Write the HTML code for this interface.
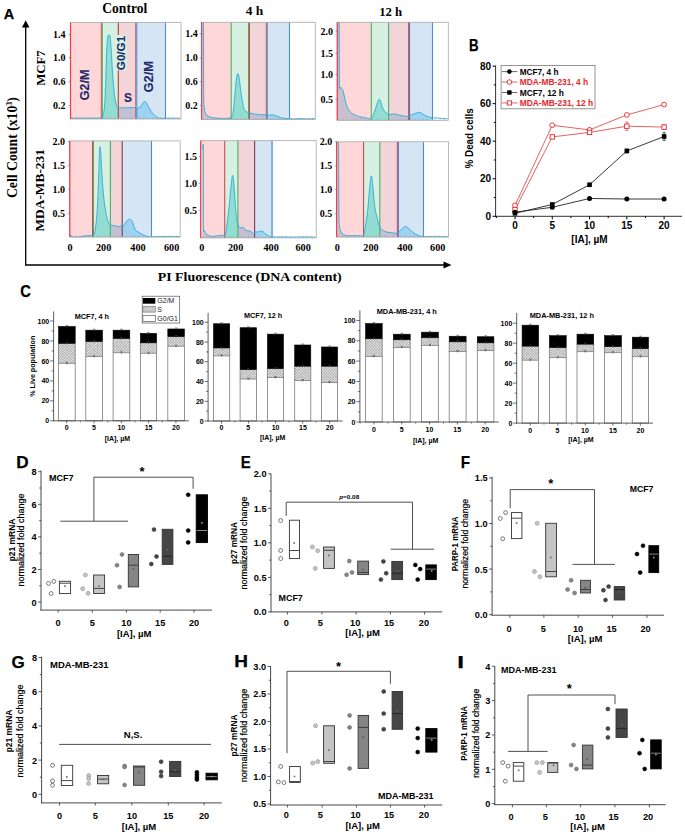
<!DOCTYPE html>
<html><head><meta charset="utf-8"><title>Figure</title>
<style>html,body{margin:0;padding:0;background:#fff;overflow:hidden;width:685px;height:834px;}svg{display:block;}</style></head>
<body><svg width="685" height="834" viewBox="0 0 685 834">
<rect width="685" height="834" fill="#fff"/>
<rect x="70.40" y="22.60" width="31.40" height="96.40" fill="#ffd7d8" />
<rect x="101.80" y="22.60" width="16.50" height="96.40" fill="#d6f1e2" />
<rect x="118.30" y="22.60" width="18.00" height="96.40" fill="#f3d4d8" />
<rect x="136.30" y="22.60" width="29.20" height="96.40" fill="#d5e5f4" />
<rect x="165.50" y="22.60" width="15.50" height="96.40" fill="#ffffff" />
<clipPath id="h0"><path d="M71.00,118.00 C72.50,118.03 76.83,118.20 80.00,118.20 C83.17,118.20 87.33,118.00 90.00,118.00 C92.67,118.00 94.07,118.25 96.00,118.20 C97.93,118.15 100.47,118.07 101.60,117.70 C102.73,117.33 102.32,117.78 102.80,116.00 C103.28,114.22 104.03,112.27 104.50,107.00 C104.97,101.73 105.23,93.80 105.60,84.40 C105.97,75.00 106.33,58.50 106.70,50.60 C107.07,42.70 107.42,39.60 107.80,37.00 C108.18,34.40 108.62,35.00 109.00,35.00 C109.38,35.00 109.73,34.40 110.10,37.00 C110.47,39.60 110.82,44.95 111.20,50.60 C111.58,56.25 112.02,65.27 112.40,70.90 C112.78,76.53 113.13,80.27 113.50,84.40 C113.87,88.53 114.17,92.50 114.60,95.70 C115.03,98.90 115.63,101.63 116.10,103.60 C116.57,105.57 116.90,106.72 117.40,107.50 C117.90,108.28 118.43,108.30 119.10,108.30 C119.77,108.30 120.65,107.53 121.40,107.50 C122.15,107.47 122.85,108.13 123.60,108.10 C124.35,108.07 125.25,107.28 125.90,107.30 C126.55,107.32 126.93,108.15 127.50,108.20 C128.07,108.25 128.42,107.70 129.30,107.60 C130.18,107.50 131.72,107.57 132.80,107.60 C133.88,107.63 135.08,107.57 135.80,107.80 C136.52,108.03 136.58,109.08 137.10,109.00 C137.62,108.92 138.32,107.62 138.90,107.30 C139.48,106.98 139.95,107.78 140.60,107.10 C141.25,106.42 142.13,104.13 142.80,103.20 C143.47,102.27 144.02,101.60 144.60,101.50 C145.18,101.40 145.65,101.73 146.30,102.60 C146.95,103.47 147.70,105.22 148.50,106.70 C149.30,108.18 150.15,110.12 151.10,111.50 C152.05,112.88 153.17,114.00 154.20,115.00 C155.23,116.00 156.35,116.95 157.30,117.50 C158.25,118.05 158.58,118.17 159.90,118.30 C161.22,118.43 163.18,118.33 165.20,118.30 C167.22,118.27 169.47,118.10 172.00,118.10 C174.53,118.10 179.00,118.27 180.40,118.30 L180.40,119 L71.00,119 Z"/></clipPath>
<rect x="70.40" y="22.60" width="31.40" height="96.40" fill="#c8c0d0" clip-path="url(#h0)"/>
<rect x="101.80" y="22.60" width="16.50" height="96.40" fill="#92dcd2" clip-path="url(#h0)"/>
<rect x="118.30" y="22.60" width="18.00" height="96.40" fill="#c2c0d2" clip-path="url(#h0)"/>
<rect x="136.30" y="22.60" width="29.20" height="96.40" fill="#9dd2f0" clip-path="url(#h0)"/>
<rect x="165.50" y="22.60" width="15.50" height="96.40" fill="#ffffff" clip-path="url(#h0)"/>
<line x1="101.30" y1="22.60" x2="101.30" y2="119.00" stroke="#d04a4a" stroke-width="1" />
<line x1="102.30" y1="22.60" x2="102.30" y2="119.00" stroke="#4cae62" stroke-width="1" />
<line x1="118.30" y1="22.60" x2="118.30" y2="119.00" stroke="#b0402e" stroke-width="1.1" />
<line x1="135.80" y1="22.60" x2="135.80" y2="119.00" stroke="#d04a4a" stroke-width="1" />
<line x1="136.80" y1="22.60" x2="136.80" y2="119.00" stroke="#4a8fd4" stroke-width="1" />
<line x1="165.50" y1="22.60" x2="165.50" y2="119.00" stroke="#4a8fd4" stroke-width="1.1" />
<clipPath id="bx0"><rect x="70.4" y="22.900000000000002" width="110.6" height="96.4"/></clipPath>
<path d="M71.00,118.00 C72.50,118.03 76.83,118.20 80.00,118.20 C83.17,118.20 87.33,118.00 90.00,118.00 C92.67,118.00 94.07,118.25 96.00,118.20 C97.93,118.15 100.47,118.07 101.60,117.70 C102.73,117.33 102.32,117.78 102.80,116.00 C103.28,114.22 104.03,112.27 104.50,107.00 C104.97,101.73 105.23,93.80 105.60,84.40 C105.97,75.00 106.33,58.50 106.70,50.60 C107.07,42.70 107.42,39.60 107.80,37.00 C108.18,34.40 108.62,35.00 109.00,35.00 C109.38,35.00 109.73,34.40 110.10,37.00 C110.47,39.60 110.82,44.95 111.20,50.60 C111.58,56.25 112.02,65.27 112.40,70.90 C112.78,76.53 113.13,80.27 113.50,84.40 C113.87,88.53 114.17,92.50 114.60,95.70 C115.03,98.90 115.63,101.63 116.10,103.60 C116.57,105.57 116.90,106.72 117.40,107.50 C117.90,108.28 118.43,108.30 119.10,108.30 C119.77,108.30 120.65,107.53 121.40,107.50 C122.15,107.47 122.85,108.13 123.60,108.10 C124.35,108.07 125.25,107.28 125.90,107.30 C126.55,107.32 126.93,108.15 127.50,108.20 C128.07,108.25 128.42,107.70 129.30,107.60 C130.18,107.50 131.72,107.57 132.80,107.60 C133.88,107.63 135.08,107.57 135.80,107.80 C136.52,108.03 136.58,109.08 137.10,109.00 C137.62,108.92 138.32,107.62 138.90,107.30 C139.48,106.98 139.95,107.78 140.60,107.10 C141.25,106.42 142.13,104.13 142.80,103.20 C143.47,102.27 144.02,101.60 144.60,101.50 C145.18,101.40 145.65,101.73 146.30,102.60 C146.95,103.47 147.70,105.22 148.50,106.70 C149.30,108.18 150.15,110.12 151.10,111.50 C152.05,112.88 153.17,114.00 154.20,115.00 C155.23,116.00 156.35,116.95 157.30,117.50 C158.25,118.05 158.58,118.17 159.90,118.30 C161.22,118.43 163.18,118.33 165.20,118.30 C167.22,118.27 169.47,118.10 172.00,118.10 C174.53,118.10 179.00,118.27 180.40,118.30" fill="none" stroke="#2aaade" stroke-width="0.9" stroke-linejoin="round" clip-path="url(#bx0)"/>
<rect x="70.40" y="22.60" width="110.60" height="96.40" fill="none" stroke="#a8a8a8" stroke-width="0.8" />
<line x1="70.50" y1="22.60" x2="70.50" y2="119.00" stroke="#f23b4b" stroke-width="1.2" />
<line x1="72.40" y1="119.00" x2="72.40" y2="117.50" stroke="#9a9a9a" stroke-width="0.6" />
<line x1="76.60" y1="119.00" x2="76.60" y2="117.50" stroke="#9a9a9a" stroke-width="0.6" />
<line x1="80.80" y1="119.00" x2="80.80" y2="117.50" stroke="#9a9a9a" stroke-width="0.6" />
<line x1="85.00" y1="119.00" x2="85.00" y2="117.50" stroke="#9a9a9a" stroke-width="0.6" />
<line x1="89.20" y1="119.00" x2="89.20" y2="117.50" stroke="#9a9a9a" stroke-width="0.6" />
<line x1="93.40" y1="119.00" x2="93.40" y2="117.50" stroke="#9a9a9a" stroke-width="0.6" />
<line x1="97.60" y1="119.00" x2="97.60" y2="117.50" stroke="#9a9a9a" stroke-width="0.6" />
<line x1="101.80" y1="119.00" x2="101.80" y2="117.50" stroke="#9a9a9a" stroke-width="0.6" />
<line x1="106.00" y1="119.00" x2="106.00" y2="117.50" stroke="#9a9a9a" stroke-width="0.6" />
<line x1="110.20" y1="119.00" x2="110.20" y2="117.50" stroke="#9a9a9a" stroke-width="0.6" />
<line x1="114.40" y1="119.00" x2="114.40" y2="117.50" stroke="#9a9a9a" stroke-width="0.6" />
<line x1="118.60" y1="119.00" x2="118.60" y2="117.50" stroke="#9a9a9a" stroke-width="0.6" />
<line x1="122.80" y1="119.00" x2="122.80" y2="117.50" stroke="#9a9a9a" stroke-width="0.6" />
<line x1="127.00" y1="119.00" x2="127.00" y2="117.50" stroke="#9a9a9a" stroke-width="0.6" />
<line x1="131.20" y1="119.00" x2="131.20" y2="117.50" stroke="#9a9a9a" stroke-width="0.6" />
<line x1="135.40" y1="119.00" x2="135.40" y2="117.50" stroke="#9a9a9a" stroke-width="0.6" />
<line x1="139.60" y1="119.00" x2="139.60" y2="117.50" stroke="#9a9a9a" stroke-width="0.6" />
<line x1="143.80" y1="119.00" x2="143.80" y2="117.50" stroke="#9a9a9a" stroke-width="0.6" />
<line x1="148.00" y1="119.00" x2="148.00" y2="117.50" stroke="#9a9a9a" stroke-width="0.6" />
<line x1="152.20" y1="119.00" x2="152.20" y2="117.50" stroke="#9a9a9a" stroke-width="0.6" />
<line x1="156.40" y1="119.00" x2="156.40" y2="117.50" stroke="#9a9a9a" stroke-width="0.6" />
<line x1="160.60" y1="119.00" x2="160.60" y2="117.50" stroke="#9a9a9a" stroke-width="0.6" />
<line x1="164.80" y1="119.00" x2="164.80" y2="117.50" stroke="#9a9a9a" stroke-width="0.6" />
<line x1="169.00" y1="119.00" x2="169.00" y2="117.50" stroke="#9a9a9a" stroke-width="0.6" />
<line x1="173.20" y1="119.00" x2="173.20" y2="117.50" stroke="#9a9a9a" stroke-width="0.6" />
<line x1="177.40" y1="119.00" x2="177.40" y2="117.50" stroke="#9a9a9a" stroke-width="0.6" />
<line x1="68.60" y1="34.50" x2="70.40" y2="34.50" stroke="#666" stroke-width="0.6" />
<line x1="68.60" y1="57.70" x2="70.40" y2="57.70" stroke="#666" stroke-width="0.6" />
<line x1="68.60" y1="81.70" x2="70.40" y2="81.70" stroke="#666" stroke-width="0.6" />
<line x1="68.60" y1="105.60" x2="70.40" y2="105.60" stroke="#666" stroke-width="0.6" />
<text x="65.50" y="38.00" font-family='"Liberation Serif", serif' font-size="10" font-weight="bold" fill="#000" text-anchor="end">1.4</text>
<text x="65.50" y="61.20" font-family='"Liberation Serif", serif' font-size="10" font-weight="bold" fill="#000" text-anchor="end">1.0</text>
<text x="65.50" y="85.20" font-family='"Liberation Serif", serif' font-size="10" font-weight="bold" fill="#000" text-anchor="end">0.6</text>
<text x="65.50" y="109.10" font-family='"Liberation Serif", serif' font-size="10" font-weight="bold" fill="#000" text-anchor="end">0.2</text>
<rect x="201.50" y="22.30" width="29.70" height="97.20" fill="#ffd7d8" />
<rect x="231.20" y="22.30" width="17.80" height="97.20" fill="#d6f1e2" />
<rect x="249.00" y="22.30" width="17.80" height="97.20" fill="#f3d4d8" />
<rect x="266.80" y="22.30" width="22.70" height="97.20" fill="#d5e5f4" />
<rect x="289.50" y="22.30" width="25.80" height="97.20" fill="#ffffff" />
<clipPath id="h1"><path d="M202.30,22.80 C202.48,22.80 203.17,11.05 203.40,22.80 C203.63,34.55 203.58,79.50 203.70,93.30 C203.82,107.10 203.83,102.33 204.10,105.60 C204.37,108.87 204.48,111.07 205.30,112.90 C206.12,114.73 207.57,115.78 209.00,116.60 C210.43,117.42 211.67,117.50 213.90,117.80 C216.13,118.10 220.05,118.33 222.40,118.40 C224.75,118.47 226.52,118.38 228.00,118.20 C229.48,118.02 230.42,118.50 231.30,117.30 C232.18,116.10 232.65,115.33 233.30,111.00 C233.95,106.67 234.67,96.78 235.20,91.30 C235.73,85.82 236.05,81.07 236.50,78.10 C236.95,75.13 237.45,73.50 237.90,73.50 C238.35,73.50 238.77,75.57 239.20,78.10 C239.63,80.63 239.95,84.75 240.50,88.70 C241.05,92.65 241.85,98.30 242.50,101.80 C243.15,105.30 243.63,108.00 244.40,109.70 C245.17,111.40 246.22,111.45 247.10,112.00 C247.98,112.55 248.50,112.68 249.70,113.00 C250.90,113.32 252.67,113.62 254.30,113.90 C255.93,114.18 257.75,114.57 259.50,114.70 C261.25,114.83 263.48,114.60 264.80,114.70 C266.12,114.80 266.08,115.27 267.40,115.30 C268.72,115.33 271.17,114.78 272.70,114.90 C274.23,115.02 275.28,115.55 276.60,116.00 C277.92,116.45 279.07,117.17 280.60,117.60 C282.13,118.03 283.62,118.38 285.80,118.60 C287.98,118.82 291.33,118.90 293.70,118.90 C296.07,118.90 297.95,118.60 300.00,118.60 C302.05,118.60 303.53,118.90 306.00,118.90 C308.47,118.90 313.33,118.65 314.80,118.60 L314.80,119.5 L202.30,119.5 Z"/></clipPath>
<rect x="201.50" y="22.30" width="29.70" height="97.20" fill="#c8c0d0" clip-path="url(#h1)"/>
<rect x="231.20" y="22.30" width="17.80" height="97.20" fill="#92dcd2" clip-path="url(#h1)"/>
<rect x="249.00" y="22.30" width="17.80" height="97.20" fill="#c2c0d2" clip-path="url(#h1)"/>
<rect x="266.80" y="22.30" width="22.70" height="97.20" fill="#9dd2f0" clip-path="url(#h1)"/>
<rect x="289.50" y="22.30" width="25.80" height="97.20" fill="#ffffff" clip-path="url(#h1)"/>
<line x1="231.20" y1="22.30" x2="231.20" y2="119.50" stroke="#4cae62" stroke-width="1.1" />
<line x1="248.50" y1="22.30" x2="248.50" y2="119.50" stroke="#4cae62" stroke-width="1" />
<line x1="249.50" y1="22.30" x2="249.50" y2="119.50" stroke="#d04a4a" stroke-width="1" />
<line x1="266.30" y1="22.30" x2="266.30" y2="119.50" stroke="#d04a4a" stroke-width="1" />
<line x1="267.30" y1="22.30" x2="267.30" y2="119.50" stroke="#4a8fd4" stroke-width="1" />
<line x1="289.50" y1="22.30" x2="289.50" y2="119.50" stroke="#4a8fd4" stroke-width="1.1" />
<clipPath id="bx1"><rect x="201.5" y="22.6" width="113.80000000000001" height="97.2"/></clipPath>
<path d="M202.30,22.80 C202.48,22.80 203.17,11.05 203.40,22.80 C203.63,34.55 203.58,79.50 203.70,93.30 C203.82,107.10 203.83,102.33 204.10,105.60 C204.37,108.87 204.48,111.07 205.30,112.90 C206.12,114.73 207.57,115.78 209.00,116.60 C210.43,117.42 211.67,117.50 213.90,117.80 C216.13,118.10 220.05,118.33 222.40,118.40 C224.75,118.47 226.52,118.38 228.00,118.20 C229.48,118.02 230.42,118.50 231.30,117.30 C232.18,116.10 232.65,115.33 233.30,111.00 C233.95,106.67 234.67,96.78 235.20,91.30 C235.73,85.82 236.05,81.07 236.50,78.10 C236.95,75.13 237.45,73.50 237.90,73.50 C238.35,73.50 238.77,75.57 239.20,78.10 C239.63,80.63 239.95,84.75 240.50,88.70 C241.05,92.65 241.85,98.30 242.50,101.80 C243.15,105.30 243.63,108.00 244.40,109.70 C245.17,111.40 246.22,111.45 247.10,112.00 C247.98,112.55 248.50,112.68 249.70,113.00 C250.90,113.32 252.67,113.62 254.30,113.90 C255.93,114.18 257.75,114.57 259.50,114.70 C261.25,114.83 263.48,114.60 264.80,114.70 C266.12,114.80 266.08,115.27 267.40,115.30 C268.72,115.33 271.17,114.78 272.70,114.90 C274.23,115.02 275.28,115.55 276.60,116.00 C277.92,116.45 279.07,117.17 280.60,117.60 C282.13,118.03 283.62,118.38 285.80,118.60 C287.98,118.82 291.33,118.90 293.70,118.90 C296.07,118.90 297.95,118.60 300.00,118.60 C302.05,118.60 303.53,118.90 306.00,118.90 C308.47,118.90 313.33,118.65 314.80,118.60" fill="none" stroke="#2aaade" stroke-width="0.9" stroke-linejoin="round" clip-path="url(#bx1)"/>
<rect x="201.50" y="22.30" width="113.80" height="97.20" fill="none" stroke="#a8a8a8" stroke-width="0.8" />
<line x1="201.60" y1="22.30" x2="201.60" y2="119.50" stroke="#f23b4b" stroke-width="1.2" />
<line x1="203.50" y1="119.50" x2="203.50" y2="118.00" stroke="#9a9a9a" stroke-width="0.6" />
<line x1="207.70" y1="119.50" x2="207.70" y2="118.00" stroke="#9a9a9a" stroke-width="0.6" />
<line x1="211.90" y1="119.50" x2="211.90" y2="118.00" stroke="#9a9a9a" stroke-width="0.6" />
<line x1="216.10" y1="119.50" x2="216.10" y2="118.00" stroke="#9a9a9a" stroke-width="0.6" />
<line x1="220.30" y1="119.50" x2="220.30" y2="118.00" stroke="#9a9a9a" stroke-width="0.6" />
<line x1="224.50" y1="119.50" x2="224.50" y2="118.00" stroke="#9a9a9a" stroke-width="0.6" />
<line x1="228.70" y1="119.50" x2="228.70" y2="118.00" stroke="#9a9a9a" stroke-width="0.6" />
<line x1="232.90" y1="119.50" x2="232.90" y2="118.00" stroke="#9a9a9a" stroke-width="0.6" />
<line x1="237.10" y1="119.50" x2="237.10" y2="118.00" stroke="#9a9a9a" stroke-width="0.6" />
<line x1="241.30" y1="119.50" x2="241.30" y2="118.00" stroke="#9a9a9a" stroke-width="0.6" />
<line x1="245.50" y1="119.50" x2="245.50" y2="118.00" stroke="#9a9a9a" stroke-width="0.6" />
<line x1="249.70" y1="119.50" x2="249.70" y2="118.00" stroke="#9a9a9a" stroke-width="0.6" />
<line x1="253.90" y1="119.50" x2="253.90" y2="118.00" stroke="#9a9a9a" stroke-width="0.6" />
<line x1="258.10" y1="119.50" x2="258.10" y2="118.00" stroke="#9a9a9a" stroke-width="0.6" />
<line x1="262.30" y1="119.50" x2="262.30" y2="118.00" stroke="#9a9a9a" stroke-width="0.6" />
<line x1="266.50" y1="119.50" x2="266.50" y2="118.00" stroke="#9a9a9a" stroke-width="0.6" />
<line x1="270.70" y1="119.50" x2="270.70" y2="118.00" stroke="#9a9a9a" stroke-width="0.6" />
<line x1="274.90" y1="119.50" x2="274.90" y2="118.00" stroke="#9a9a9a" stroke-width="0.6" />
<line x1="279.10" y1="119.50" x2="279.10" y2="118.00" stroke="#9a9a9a" stroke-width="0.6" />
<line x1="283.30" y1="119.50" x2="283.30" y2="118.00" stroke="#9a9a9a" stroke-width="0.6" />
<line x1="287.50" y1="119.50" x2="287.50" y2="118.00" stroke="#9a9a9a" stroke-width="0.6" />
<line x1="291.70" y1="119.50" x2="291.70" y2="118.00" stroke="#9a9a9a" stroke-width="0.6" />
<line x1="295.90" y1="119.50" x2="295.90" y2="118.00" stroke="#9a9a9a" stroke-width="0.6" />
<line x1="300.10" y1="119.50" x2="300.10" y2="118.00" stroke="#9a9a9a" stroke-width="0.6" />
<line x1="304.30" y1="119.50" x2="304.30" y2="118.00" stroke="#9a9a9a" stroke-width="0.6" />
<line x1="308.50" y1="119.50" x2="308.50" y2="118.00" stroke="#9a9a9a" stroke-width="0.6" />
<line x1="312.70" y1="119.50" x2="312.70" y2="118.00" stroke="#9a9a9a" stroke-width="0.6" />
<line x1="199.70" y1="33.60" x2="201.50" y2="33.60" stroke="#666" stroke-width="0.6" />
<line x1="199.70" y1="57.80" x2="201.50" y2="57.80" stroke="#666" stroke-width="0.6" />
<line x1="199.70" y1="81.70" x2="201.50" y2="81.70" stroke="#666" stroke-width="0.6" />
<line x1="199.70" y1="105.40" x2="201.50" y2="105.40" stroke="#666" stroke-width="0.6" />
<text x="197.80" y="37.10" font-family='"Liberation Serif", serif' font-size="10" font-weight="bold" fill="#000" text-anchor="end">1.4</text>
<text x="197.80" y="61.30" font-family='"Liberation Serif", serif' font-size="10" font-weight="bold" fill="#000" text-anchor="end">1.0</text>
<text x="197.80" y="85.20" font-family='"Liberation Serif", serif' font-size="10" font-weight="bold" fill="#000" text-anchor="end">0.6</text>
<text x="197.80" y="108.90" font-family='"Liberation Serif", serif' font-size="10" font-weight="bold" fill="#000" text-anchor="end">0.2</text>
<rect x="337.20" y="22.30" width="34.10" height="98.00" fill="#ffd7d8" />
<rect x="371.30" y="22.30" width="17.30" height="98.00" fill="#d6f1e2" />
<rect x="388.60" y="22.30" width="20.50" height="98.00" fill="#f3d4d8" />
<rect x="409.10" y="22.30" width="23.40" height="98.00" fill="#d5e5f4" />
<rect x="432.50" y="22.30" width="15.80" height="98.00" fill="#ffffff" />
<clipPath id="h2"><path d="M338.00,22.80 C338.20,22.80 338.98,18.27 339.20,22.80 C339.30,27.33 339.27,39.55 339.30,50.00 C339.33,60.45 339.30,79.27 339.40,85.50 C339.52,91.73 339.72,87.02 340.00,87.40 C340.28,87.78 340.62,87.32 341.10,87.80 C341.58,88.28 342.28,88.57 342.90,90.30 C343.52,92.03 344.18,95.65 344.80,98.20 C345.42,100.75 345.88,103.55 346.60,105.60 C347.32,107.65 348.18,109.18 349.10,110.50 C350.02,111.82 350.98,112.68 352.10,113.50 C353.22,114.32 354.58,114.88 355.80,115.40 C357.02,115.92 357.98,116.23 359.40,116.60 C360.82,116.97 362.87,117.30 364.30,117.60 C365.73,117.90 366.85,118.25 368.00,118.40 C369.15,118.55 370.35,119.00 371.20,118.50 C372.05,118.00 372.38,117.05 373.10,115.40 C373.82,113.75 374.68,110.98 375.50,108.60 C376.32,106.22 377.37,102.65 378.00,101.10 C378.63,99.55 378.88,99.30 379.30,99.30 C379.72,99.30 379.98,99.77 380.50,101.10 C381.02,102.43 381.67,105.53 382.40,107.30 C383.13,109.07 383.97,110.55 384.90,111.70 C385.83,112.85 386.97,113.75 388.00,114.20 C389.03,114.65 390.07,114.45 391.10,114.40 C392.13,114.35 393.07,113.83 394.20,113.90 C395.33,113.97 396.57,114.48 397.90,114.80 C399.23,115.12 400.87,115.53 402.20,115.80 C403.53,116.07 404.77,116.37 405.90,116.40 C407.03,116.43 407.97,116.32 409.00,116.00 C410.03,115.68 410.95,114.95 412.10,114.50 C413.25,114.05 414.82,113.67 415.90,113.30 C416.98,112.93 417.67,112.30 418.60,112.30 C419.53,112.30 420.30,112.72 421.50,113.30 C422.70,113.88 424.25,115.10 425.80,115.80 C427.35,116.50 429.57,117.15 430.80,117.50 C432.03,117.85 432.17,117.83 433.20,117.90 C434.23,117.97 435.55,117.80 437.00,117.90 C438.45,118.00 440.10,118.37 441.90,118.50 C443.70,118.63 446.82,118.67 447.80,118.70 L447.80,120.3 L338.00,120.3 Z"/></clipPath>
<rect x="337.20" y="22.30" width="34.10" height="98.00" fill="#c8c0d0" clip-path="url(#h2)"/>
<rect x="371.30" y="22.30" width="17.30" height="98.00" fill="#92dcd2" clip-path="url(#h2)"/>
<rect x="388.60" y="22.30" width="20.50" height="98.00" fill="#c2c0d2" clip-path="url(#h2)"/>
<rect x="409.10" y="22.30" width="23.40" height="98.00" fill="#9dd2f0" clip-path="url(#h2)"/>
<rect x="432.50" y="22.30" width="15.80" height="98.00" fill="#ffffff" clip-path="url(#h2)"/>
<line x1="371.30" y1="22.30" x2="371.30" y2="120.30" stroke="#4cae62" stroke-width="1.1" />
<line x1="388.60" y1="22.30" x2="388.60" y2="120.30" stroke="#4cae62" stroke-width="1.1" />
<line x1="408.60" y1="22.30" x2="408.60" y2="120.30" stroke="#d04a4a" stroke-width="1" />
<line x1="409.60" y1="22.30" x2="409.60" y2="120.30" stroke="#4a68b8" stroke-width="1" />
<line x1="432.50" y1="22.30" x2="432.50" y2="120.30" stroke="#4a8fd4" stroke-width="1.1" />
<clipPath id="bx2"><rect x="337.2" y="22.6" width="111.10000000000002" height="98.0"/></clipPath>
<path d="M338.00,22.80 C338.20,22.80 338.98,18.27 339.20,22.80 C339.30,27.33 339.27,39.55 339.30,50.00 C339.33,60.45 339.30,79.27 339.40,85.50 C339.52,91.73 339.72,87.02 340.00,87.40 C340.28,87.78 340.62,87.32 341.10,87.80 C341.58,88.28 342.28,88.57 342.90,90.30 C343.52,92.03 344.18,95.65 344.80,98.20 C345.42,100.75 345.88,103.55 346.60,105.60 C347.32,107.65 348.18,109.18 349.10,110.50 C350.02,111.82 350.98,112.68 352.10,113.50 C353.22,114.32 354.58,114.88 355.80,115.40 C357.02,115.92 357.98,116.23 359.40,116.60 C360.82,116.97 362.87,117.30 364.30,117.60 C365.73,117.90 366.85,118.25 368.00,118.40 C369.15,118.55 370.35,119.00 371.20,118.50 C372.05,118.00 372.38,117.05 373.10,115.40 C373.82,113.75 374.68,110.98 375.50,108.60 C376.32,106.22 377.37,102.65 378.00,101.10 C378.63,99.55 378.88,99.30 379.30,99.30 C379.72,99.30 379.98,99.77 380.50,101.10 C381.02,102.43 381.67,105.53 382.40,107.30 C383.13,109.07 383.97,110.55 384.90,111.70 C385.83,112.85 386.97,113.75 388.00,114.20 C389.03,114.65 390.07,114.45 391.10,114.40 C392.13,114.35 393.07,113.83 394.20,113.90 C395.33,113.97 396.57,114.48 397.90,114.80 C399.23,115.12 400.87,115.53 402.20,115.80 C403.53,116.07 404.77,116.37 405.90,116.40 C407.03,116.43 407.97,116.32 409.00,116.00 C410.03,115.68 410.95,114.95 412.10,114.50 C413.25,114.05 414.82,113.67 415.90,113.30 C416.98,112.93 417.67,112.30 418.60,112.30 C419.53,112.30 420.30,112.72 421.50,113.30 C422.70,113.88 424.25,115.10 425.80,115.80 C427.35,116.50 429.57,117.15 430.80,117.50 C432.03,117.85 432.17,117.83 433.20,117.90 C434.23,117.97 435.55,117.80 437.00,117.90 C438.45,118.00 440.10,118.37 441.90,118.50 C443.70,118.63 446.82,118.67 447.80,118.70" fill="none" stroke="#2aaade" stroke-width="0.9" stroke-linejoin="round" clip-path="url(#bx2)"/>
<rect x="337.20" y="22.30" width="111.10" height="98.00" fill="none" stroke="#a8a8a8" stroke-width="0.8" />
<line x1="337.30" y1="22.30" x2="337.30" y2="120.30" stroke="#f23b4b" stroke-width="1.2" />
<line x1="339.20" y1="120.30" x2="339.20" y2="118.80" stroke="#9a9a9a" stroke-width="0.6" />
<line x1="343.40" y1="120.30" x2="343.40" y2="118.80" stroke="#9a9a9a" stroke-width="0.6" />
<line x1="347.60" y1="120.30" x2="347.60" y2="118.80" stroke="#9a9a9a" stroke-width="0.6" />
<line x1="351.80" y1="120.30" x2="351.80" y2="118.80" stroke="#9a9a9a" stroke-width="0.6" />
<line x1="356.00" y1="120.30" x2="356.00" y2="118.80" stroke="#9a9a9a" stroke-width="0.6" />
<line x1="360.20" y1="120.30" x2="360.20" y2="118.80" stroke="#9a9a9a" stroke-width="0.6" />
<line x1="364.40" y1="120.30" x2="364.40" y2="118.80" stroke="#9a9a9a" stroke-width="0.6" />
<line x1="368.60" y1="120.30" x2="368.60" y2="118.80" stroke="#9a9a9a" stroke-width="0.6" />
<line x1="372.80" y1="120.30" x2="372.80" y2="118.80" stroke="#9a9a9a" stroke-width="0.6" />
<line x1="377.00" y1="120.30" x2="377.00" y2="118.80" stroke="#9a9a9a" stroke-width="0.6" />
<line x1="381.20" y1="120.30" x2="381.20" y2="118.80" stroke="#9a9a9a" stroke-width="0.6" />
<line x1="385.40" y1="120.30" x2="385.40" y2="118.80" stroke="#9a9a9a" stroke-width="0.6" />
<line x1="389.60" y1="120.30" x2="389.60" y2="118.80" stroke="#9a9a9a" stroke-width="0.6" />
<line x1="393.80" y1="120.30" x2="393.80" y2="118.80" stroke="#9a9a9a" stroke-width="0.6" />
<line x1="398.00" y1="120.30" x2="398.00" y2="118.80" stroke="#9a9a9a" stroke-width="0.6" />
<line x1="402.20" y1="120.30" x2="402.20" y2="118.80" stroke="#9a9a9a" stroke-width="0.6" />
<line x1="406.40" y1="120.30" x2="406.40" y2="118.80" stroke="#9a9a9a" stroke-width="0.6" />
<line x1="410.60" y1="120.30" x2="410.60" y2="118.80" stroke="#9a9a9a" stroke-width="0.6" />
<line x1="414.80" y1="120.30" x2="414.80" y2="118.80" stroke="#9a9a9a" stroke-width="0.6" />
<line x1="419.00" y1="120.30" x2="419.00" y2="118.80" stroke="#9a9a9a" stroke-width="0.6" />
<line x1="423.20" y1="120.30" x2="423.20" y2="118.80" stroke="#9a9a9a" stroke-width="0.6" />
<line x1="427.40" y1="120.30" x2="427.40" y2="118.80" stroke="#9a9a9a" stroke-width="0.6" />
<line x1="431.60" y1="120.30" x2="431.60" y2="118.80" stroke="#9a9a9a" stroke-width="0.6" />
<line x1="435.80" y1="120.30" x2="435.80" y2="118.80" stroke="#9a9a9a" stroke-width="0.6" />
<line x1="440.00" y1="120.30" x2="440.00" y2="118.80" stroke="#9a9a9a" stroke-width="0.6" />
<line x1="444.20" y1="120.30" x2="444.20" y2="118.80" stroke="#9a9a9a" stroke-width="0.6" />
<line x1="335.40" y1="31.00" x2="337.20" y2="31.00" stroke="#666" stroke-width="0.6" />
<line x1="335.40" y1="53.30" x2="337.20" y2="53.30" stroke="#666" stroke-width="0.6" />
<line x1="335.40" y1="74.40" x2="337.20" y2="74.40" stroke="#666" stroke-width="0.6" />
<line x1="335.40" y1="99.30" x2="337.20" y2="99.30" stroke="#666" stroke-width="0.6" />
<text x="333.10" y="34.50" font-family='"Liberation Serif", serif' font-size="10" font-weight="bold" fill="#000" text-anchor="end">2.0</text>
<text x="333.10" y="56.80" font-family='"Liberation Serif", serif' font-size="10" font-weight="bold" fill="#000" text-anchor="end">1.5</text>
<text x="333.10" y="77.90" font-family='"Liberation Serif", serif' font-size="10" font-weight="bold" fill="#000" text-anchor="end">1.0</text>
<text x="333.10" y="102.80" font-family='"Liberation Serif", serif' font-size="10" font-weight="bold" fill="#000" text-anchor="end">0.5</text>
<rect x="69.70" y="140.90" width="23.30" height="96.20" fill="#ffd7d8" />
<rect x="93.00" y="140.90" width="17.40" height="96.20" fill="#d6f1e2" />
<rect x="110.40" y="140.90" width="11.80" height="96.20" fill="#f3d4d8" />
<rect x="122.20" y="140.90" width="29.30" height="96.20" fill="#d5e5f4" />
<rect x="151.50" y="140.90" width="28.70" height="96.20" fill="#ffffff" />
<clipPath id="h3"><path d="M70.20,234.20 C70.50,234.60 70.70,236.13 72.00,236.60 C73.30,237.07 76.00,237.10 78.00,237.00 C80.00,236.90 81.70,236.27 84.00,236.00 C86.30,235.73 90.10,235.80 91.80,235.40 C93.50,235.00 93.50,235.50 94.20,233.60 C94.90,231.70 95.45,228.60 96.00,224.00 C96.55,219.40 97.05,214.00 97.50,206.00 C97.95,198.00 98.35,185.40 98.70,176.00 C99.05,166.60 99.35,154.30 99.60,149.60 C99.85,144.90 100.00,147.40 100.20,147.80 C100.40,148.20 100.50,147.30 100.80,152.00 C101.10,156.70 101.50,168.40 102.00,176.00 C102.50,183.60 103.20,191.80 103.80,197.60 C104.40,203.40 105.00,207.20 105.60,210.80 C106.20,214.40 106.80,217.00 107.40,219.20 C108.00,221.40 108.60,222.95 109.20,224.00 C109.80,225.05 110.20,225.25 111.00,225.50 C111.80,225.75 112.90,225.30 114.00,225.50 C115.10,225.70 116.40,226.65 117.60,226.70 C118.80,226.75 120.35,225.75 121.20,225.80 C122.05,225.85 122.07,227.38 122.70,227.00 C123.33,226.62 124.17,224.65 125.00,223.50 C125.83,222.35 126.95,220.82 127.70,220.10 C128.45,219.38 128.90,219.20 129.50,219.20 C130.10,219.20 130.70,219.30 131.30,220.10 C131.90,220.90 132.50,222.52 133.10,224.00 C133.70,225.48 134.30,227.80 134.90,229.00 C135.50,230.20 135.87,230.53 136.70,231.20 C137.53,231.87 138.77,232.35 139.90,233.00 C141.03,233.65 142.30,234.53 143.50,235.10 C144.70,235.67 145.73,236.12 147.10,236.40 C148.47,236.68 149.43,236.78 151.70,236.80 C153.97,236.82 157.68,236.57 160.70,236.50 C163.72,236.43 166.65,236.37 169.80,236.40 C172.95,236.43 177.97,236.65 179.60,236.70 L179.60,237.1 L70.20,237.1 Z"/></clipPath>
<rect x="69.70" y="140.90" width="23.30" height="96.20" fill="#c8c0d0" clip-path="url(#h3)"/>
<rect x="93.00" y="140.90" width="17.40" height="96.20" fill="#92dcd2" clip-path="url(#h3)"/>
<rect x="110.40" y="140.90" width="11.80" height="96.20" fill="#c2c0d2" clip-path="url(#h3)"/>
<rect x="122.20" y="140.90" width="29.30" height="96.20" fill="#9dd2f0" clip-path="url(#h3)"/>
<rect x="151.50" y="140.90" width="28.70" height="96.20" fill="#ffffff" clip-path="url(#h3)"/>
<line x1="92.50" y1="140.90" x2="92.50" y2="237.10" stroke="#d04a4a" stroke-width="1" />
<line x1="93.50" y1="140.90" x2="93.50" y2="237.10" stroke="#4cae62" stroke-width="1" />
<line x1="110.40" y1="140.90" x2="110.40" y2="237.10" stroke="#4cae62" stroke-width="1.1" />
<line x1="122.20" y1="140.90" x2="122.20" y2="237.10" stroke="#7a3a5a" stroke-width="1.1" />
<line x1="151.50" y1="140.90" x2="151.50" y2="237.10" stroke="#4a8fd4" stroke-width="1.1" />
<clipPath id="bx3"><rect x="69.7" y="141.20000000000002" width="110.49999999999999" height="96.19999999999999"/></clipPath>
<path d="M70.20,234.20 C70.50,234.60 70.70,236.13 72.00,236.60 C73.30,237.07 76.00,237.10 78.00,237.00 C80.00,236.90 81.70,236.27 84.00,236.00 C86.30,235.73 90.10,235.80 91.80,235.40 C93.50,235.00 93.50,235.50 94.20,233.60 C94.90,231.70 95.45,228.60 96.00,224.00 C96.55,219.40 97.05,214.00 97.50,206.00 C97.95,198.00 98.35,185.40 98.70,176.00 C99.05,166.60 99.35,154.30 99.60,149.60 C99.85,144.90 100.00,147.40 100.20,147.80 C100.40,148.20 100.50,147.30 100.80,152.00 C101.10,156.70 101.50,168.40 102.00,176.00 C102.50,183.60 103.20,191.80 103.80,197.60 C104.40,203.40 105.00,207.20 105.60,210.80 C106.20,214.40 106.80,217.00 107.40,219.20 C108.00,221.40 108.60,222.95 109.20,224.00 C109.80,225.05 110.20,225.25 111.00,225.50 C111.80,225.75 112.90,225.30 114.00,225.50 C115.10,225.70 116.40,226.65 117.60,226.70 C118.80,226.75 120.35,225.75 121.20,225.80 C122.05,225.85 122.07,227.38 122.70,227.00 C123.33,226.62 124.17,224.65 125.00,223.50 C125.83,222.35 126.95,220.82 127.70,220.10 C128.45,219.38 128.90,219.20 129.50,219.20 C130.10,219.20 130.70,219.30 131.30,220.10 C131.90,220.90 132.50,222.52 133.10,224.00 C133.70,225.48 134.30,227.80 134.90,229.00 C135.50,230.20 135.87,230.53 136.70,231.20 C137.53,231.87 138.77,232.35 139.90,233.00 C141.03,233.65 142.30,234.53 143.50,235.10 C144.70,235.67 145.73,236.12 147.10,236.40 C148.47,236.68 149.43,236.78 151.70,236.80 C153.97,236.82 157.68,236.57 160.70,236.50 C163.72,236.43 166.65,236.37 169.80,236.40 C172.95,236.43 177.97,236.65 179.60,236.70" fill="none" stroke="#2aaade" stroke-width="0.9" stroke-linejoin="round" clip-path="url(#bx3)"/>
<rect x="69.70" y="140.90" width="110.50" height="96.20" fill="none" stroke="#a8a8a8" stroke-width="0.8" />
<line x1="69.80" y1="140.90" x2="69.80" y2="237.10" stroke="#f23b4b" stroke-width="1.2" />
<line x1="71.70" y1="237.10" x2="71.70" y2="235.60" stroke="#9a9a9a" stroke-width="0.6" />
<line x1="75.90" y1="237.10" x2="75.90" y2="235.60" stroke="#9a9a9a" stroke-width="0.6" />
<line x1="80.10" y1="237.10" x2="80.10" y2="235.60" stroke="#9a9a9a" stroke-width="0.6" />
<line x1="84.30" y1="237.10" x2="84.30" y2="235.60" stroke="#9a9a9a" stroke-width="0.6" />
<line x1="88.50" y1="237.10" x2="88.50" y2="235.60" stroke="#9a9a9a" stroke-width="0.6" />
<line x1="92.70" y1="237.10" x2="92.70" y2="235.60" stroke="#9a9a9a" stroke-width="0.6" />
<line x1="96.90" y1="237.10" x2="96.90" y2="235.60" stroke="#9a9a9a" stroke-width="0.6" />
<line x1="101.10" y1="237.10" x2="101.10" y2="235.60" stroke="#9a9a9a" stroke-width="0.6" />
<line x1="105.30" y1="237.10" x2="105.30" y2="235.60" stroke="#9a9a9a" stroke-width="0.6" />
<line x1="109.50" y1="237.10" x2="109.50" y2="235.60" stroke="#9a9a9a" stroke-width="0.6" />
<line x1="113.70" y1="237.10" x2="113.70" y2="235.60" stroke="#9a9a9a" stroke-width="0.6" />
<line x1="117.90" y1="237.10" x2="117.90" y2="235.60" stroke="#9a9a9a" stroke-width="0.6" />
<line x1="122.10" y1="237.10" x2="122.10" y2="235.60" stroke="#9a9a9a" stroke-width="0.6" />
<line x1="126.30" y1="237.10" x2="126.30" y2="235.60" stroke="#9a9a9a" stroke-width="0.6" />
<line x1="130.50" y1="237.10" x2="130.50" y2="235.60" stroke="#9a9a9a" stroke-width="0.6" />
<line x1="134.70" y1="237.10" x2="134.70" y2="235.60" stroke="#9a9a9a" stroke-width="0.6" />
<line x1="138.90" y1="237.10" x2="138.90" y2="235.60" stroke="#9a9a9a" stroke-width="0.6" />
<line x1="143.10" y1="237.10" x2="143.10" y2="235.60" stroke="#9a9a9a" stroke-width="0.6" />
<line x1="147.30" y1="237.10" x2="147.30" y2="235.60" stroke="#9a9a9a" stroke-width="0.6" />
<line x1="151.50" y1="237.10" x2="151.50" y2="235.60" stroke="#9a9a9a" stroke-width="0.6" />
<line x1="155.70" y1="237.10" x2="155.70" y2="235.60" stroke="#9a9a9a" stroke-width="0.6" />
<line x1="159.90" y1="237.10" x2="159.90" y2="235.60" stroke="#9a9a9a" stroke-width="0.6" />
<line x1="164.10" y1="237.10" x2="164.10" y2="235.60" stroke="#9a9a9a" stroke-width="0.6" />
<line x1="168.30" y1="237.10" x2="168.30" y2="235.60" stroke="#9a9a9a" stroke-width="0.6" />
<line x1="172.50" y1="237.10" x2="172.50" y2="235.60" stroke="#9a9a9a" stroke-width="0.6" />
<line x1="176.70" y1="237.10" x2="176.70" y2="235.60" stroke="#9a9a9a" stroke-width="0.6" />
<line x1="67.90" y1="141.40" x2="69.70" y2="141.40" stroke="#666" stroke-width="0.6" />
<line x1="67.90" y1="165.20" x2="69.70" y2="165.20" stroke="#666" stroke-width="0.6" />
<line x1="67.90" y1="189.30" x2="69.70" y2="189.30" stroke="#666" stroke-width="0.6" />
<line x1="67.90" y1="213.30" x2="69.70" y2="213.30" stroke="#666" stroke-width="0.6" />
<text x="65.00" y="144.90" font-family='"Liberation Serif", serif' font-size="10" font-weight="bold" fill="#000" text-anchor="end">2.0</text>
<text x="65.00" y="168.70" font-family='"Liberation Serif", serif' font-size="10" font-weight="bold" fill="#000" text-anchor="end">1.5</text>
<text x="65.00" y="192.80" font-family='"Liberation Serif", serif' font-size="10" font-weight="bold" fill="#000" text-anchor="end">1.0</text>
<text x="65.00" y="216.80" font-family='"Liberation Serif", serif' font-size="10" font-weight="bold" fill="#000" text-anchor="end">0.5</text>
<text x="70.10" y="250.50" font-family='"Liberation Serif", serif' font-size="10.2" font-weight="bold" fill="#000" text-anchor="middle">0</text>
<text x="103.60" y="250.50" font-family='"Liberation Serif", serif' font-size="10.2" font-weight="bold" fill="#000" text-anchor="middle">200</text>
<text x="138.00" y="250.50" font-family='"Liberation Serif", serif' font-size="10.2" font-weight="bold" fill="#000" text-anchor="middle">400</text>
<text x="171.60" y="250.50" font-family='"Liberation Serif", serif' font-size="10.2" font-weight="bold" fill="#000" text-anchor="middle">600</text>
<rect x="200.60" y="140.70" width="24.10" height="97.20" fill="#ffd7d8" />
<rect x="224.70" y="140.70" width="13.20" height="97.20" fill="#d6f1e2" />
<rect x="237.90" y="140.70" width="16.70" height="97.20" fill="#f3d4d8" />
<rect x="254.60" y="140.70" width="17.40" height="97.20" fill="#d5e5f4" />
<rect x="272.00" y="140.70" width="44.20" height="97.20" fill="#ffffff" />
<clipPath id="h4"><path d="M202.60,149.60 C202.72,149.60 203.17,137.27 203.30,149.60 C203.40,161.93 203.30,210.05 203.40,223.60 C203.63,237.15 203.97,228.97 204.70,230.90 C205.43,232.83 206.47,234.28 207.80,235.20 C209.13,236.12 211.07,236.30 212.70,236.40 C214.33,236.50 215.98,236.00 217.60,235.80 C219.22,235.60 221.18,235.30 222.40,235.20 C223.62,235.10 224.17,236.73 224.90,235.20 C225.63,233.67 226.18,229.98 226.80,226.00 C227.42,222.02 227.90,217.82 228.60,211.30 C229.30,204.78 230.33,192.90 231.00,186.90 C231.67,180.90 232.08,175.30 232.60,175.30 C233.12,175.30 233.65,181.92 234.10,186.90 C234.55,191.88 234.90,200.10 235.30,205.20 C235.70,210.30 236.10,214.43 236.50,217.50 C236.90,220.57 237.28,222.00 237.70,223.60 C238.12,225.20 238.38,226.38 239.00,227.10 C239.62,227.82 240.70,227.90 241.40,227.90 C242.10,227.90 242.60,226.75 243.20,227.10 C243.80,227.45 244.20,229.40 245.00,230.00 C245.80,230.60 246.90,230.35 248.00,230.70 C249.10,231.05 250.60,231.57 251.60,232.10 C252.60,232.63 253.40,233.90 254.00,233.90 C254.60,233.90 254.50,232.43 255.20,232.10 C255.90,231.77 257.30,232.05 258.20,231.90 C259.10,231.75 259.80,231.27 260.60,231.20 C261.40,231.13 262.12,230.98 263.00,231.50 C263.88,232.02 264.92,233.55 265.90,234.30 C266.88,235.05 267.90,235.57 268.90,236.00 C269.90,236.43 269.40,236.75 271.90,236.90 C274.40,237.05 280.05,236.87 283.90,236.90 C287.75,236.93 291.48,237.12 295.00,237.10 C298.52,237.08 301.57,236.78 305.00,236.80 C308.43,236.82 313.83,237.13 315.60,237.20 L315.60,237.9 L202.60,237.9 Z"/></clipPath>
<rect x="200.60" y="140.70" width="24.10" height="97.20" fill="#c8c0d0" clip-path="url(#h4)"/>
<rect x="224.70" y="140.70" width="13.20" height="97.20" fill="#92dcd2" clip-path="url(#h4)"/>
<rect x="237.90" y="140.70" width="16.70" height="97.20" fill="#c2c0d2" clip-path="url(#h4)"/>
<rect x="254.60" y="140.70" width="17.40" height="97.20" fill="#9dd2f0" clip-path="url(#h4)"/>
<rect x="272.00" y="140.70" width="44.20" height="97.20" fill="#ffffff" clip-path="url(#h4)"/>
<line x1="224.70" y1="140.70" x2="224.70" y2="237.90" stroke="#d04a4a" stroke-width="1.1" />
<line x1="237.90" y1="140.70" x2="237.90" y2="237.90" stroke="#4cae62" stroke-width="1.1" />
<line x1="254.60" y1="140.70" x2="254.60" y2="237.90" stroke="#7a3a5a" stroke-width="1.1" />
<line x1="271.50" y1="140.70" x2="271.50" y2="237.90" stroke="#7fb2e2" stroke-width="1" />
<line x1="272.50" y1="140.70" x2="272.50" y2="237.90" stroke="#7fb2e2" stroke-width="1" />
<clipPath id="bx4"><rect x="200.6" y="141.0" width="115.6" height="97.20000000000002"/></clipPath>
<path d="M202.60,149.60 C202.72,149.60 203.17,137.27 203.30,149.60 C203.40,161.93 203.30,210.05 203.40,223.60 C203.63,237.15 203.97,228.97 204.70,230.90 C205.43,232.83 206.47,234.28 207.80,235.20 C209.13,236.12 211.07,236.30 212.70,236.40 C214.33,236.50 215.98,236.00 217.60,235.80 C219.22,235.60 221.18,235.30 222.40,235.20 C223.62,235.10 224.17,236.73 224.90,235.20 C225.63,233.67 226.18,229.98 226.80,226.00 C227.42,222.02 227.90,217.82 228.60,211.30 C229.30,204.78 230.33,192.90 231.00,186.90 C231.67,180.90 232.08,175.30 232.60,175.30 C233.12,175.30 233.65,181.92 234.10,186.90 C234.55,191.88 234.90,200.10 235.30,205.20 C235.70,210.30 236.10,214.43 236.50,217.50 C236.90,220.57 237.28,222.00 237.70,223.60 C238.12,225.20 238.38,226.38 239.00,227.10 C239.62,227.82 240.70,227.90 241.40,227.90 C242.10,227.90 242.60,226.75 243.20,227.10 C243.80,227.45 244.20,229.40 245.00,230.00 C245.80,230.60 246.90,230.35 248.00,230.70 C249.10,231.05 250.60,231.57 251.60,232.10 C252.60,232.63 253.40,233.90 254.00,233.90 C254.60,233.90 254.50,232.43 255.20,232.10 C255.90,231.77 257.30,232.05 258.20,231.90 C259.10,231.75 259.80,231.27 260.60,231.20 C261.40,231.13 262.12,230.98 263.00,231.50 C263.88,232.02 264.92,233.55 265.90,234.30 C266.88,235.05 267.90,235.57 268.90,236.00 C269.90,236.43 269.40,236.75 271.90,236.90 C274.40,237.05 280.05,236.87 283.90,236.90 C287.75,236.93 291.48,237.12 295.00,237.10 C298.52,237.08 301.57,236.78 305.00,236.80 C308.43,236.82 313.83,237.13 315.60,237.20" fill="none" stroke="#2aaade" stroke-width="0.9" stroke-linejoin="round" clip-path="url(#bx4)"/>
<rect x="200.60" y="140.70" width="115.60" height="97.20" fill="none" stroke="#a8a8a8" stroke-width="0.8" />
<line x1="200.70" y1="140.70" x2="200.70" y2="237.90" stroke="#f23b4b" stroke-width="1.2" />
<line x1="202.60" y1="237.90" x2="202.60" y2="236.40" stroke="#9a9a9a" stroke-width="0.6" />
<line x1="206.80" y1="237.90" x2="206.80" y2="236.40" stroke="#9a9a9a" stroke-width="0.6" />
<line x1="211.00" y1="237.90" x2="211.00" y2="236.40" stroke="#9a9a9a" stroke-width="0.6" />
<line x1="215.20" y1="237.90" x2="215.20" y2="236.40" stroke="#9a9a9a" stroke-width="0.6" />
<line x1="219.40" y1="237.90" x2="219.40" y2="236.40" stroke="#9a9a9a" stroke-width="0.6" />
<line x1="223.60" y1="237.90" x2="223.60" y2="236.40" stroke="#9a9a9a" stroke-width="0.6" />
<line x1="227.80" y1="237.90" x2="227.80" y2="236.40" stroke="#9a9a9a" stroke-width="0.6" />
<line x1="232.00" y1="237.90" x2="232.00" y2="236.40" stroke="#9a9a9a" stroke-width="0.6" />
<line x1="236.20" y1="237.90" x2="236.20" y2="236.40" stroke="#9a9a9a" stroke-width="0.6" />
<line x1="240.40" y1="237.90" x2="240.40" y2="236.40" stroke="#9a9a9a" stroke-width="0.6" />
<line x1="244.60" y1="237.90" x2="244.60" y2="236.40" stroke="#9a9a9a" stroke-width="0.6" />
<line x1="248.80" y1="237.90" x2="248.80" y2="236.40" stroke="#9a9a9a" stroke-width="0.6" />
<line x1="253.00" y1="237.90" x2="253.00" y2="236.40" stroke="#9a9a9a" stroke-width="0.6" />
<line x1="257.20" y1="237.90" x2="257.20" y2="236.40" stroke="#9a9a9a" stroke-width="0.6" />
<line x1="261.40" y1="237.90" x2="261.40" y2="236.40" stroke="#9a9a9a" stroke-width="0.6" />
<line x1="265.60" y1="237.90" x2="265.60" y2="236.40" stroke="#9a9a9a" stroke-width="0.6" />
<line x1="269.80" y1="237.90" x2="269.80" y2="236.40" stroke="#9a9a9a" stroke-width="0.6" />
<line x1="274.00" y1="237.90" x2="274.00" y2="236.40" stroke="#9a9a9a" stroke-width="0.6" />
<line x1="278.20" y1="237.90" x2="278.20" y2="236.40" stroke="#9a9a9a" stroke-width="0.6" />
<line x1="282.40" y1="237.90" x2="282.40" y2="236.40" stroke="#9a9a9a" stroke-width="0.6" />
<line x1="286.60" y1="237.90" x2="286.60" y2="236.40" stroke="#9a9a9a" stroke-width="0.6" />
<line x1="290.80" y1="237.90" x2="290.80" y2="236.40" stroke="#9a9a9a" stroke-width="0.6" />
<line x1="295.00" y1="237.90" x2="295.00" y2="236.40" stroke="#9a9a9a" stroke-width="0.6" />
<line x1="299.20" y1="237.90" x2="299.20" y2="236.40" stroke="#9a9a9a" stroke-width="0.6" />
<line x1="303.40" y1="237.90" x2="303.40" y2="236.40" stroke="#9a9a9a" stroke-width="0.6" />
<line x1="307.60" y1="237.90" x2="307.60" y2="236.40" stroke="#9a9a9a" stroke-width="0.6" />
<line x1="311.80" y1="237.90" x2="311.80" y2="236.40" stroke="#9a9a9a" stroke-width="0.6" />
<line x1="198.80" y1="156.50" x2="200.60" y2="156.50" stroke="#666" stroke-width="0.6" />
<line x1="198.80" y1="183.40" x2="200.60" y2="183.40" stroke="#666" stroke-width="0.6" />
<line x1="198.80" y1="210.30" x2="200.60" y2="210.30" stroke="#666" stroke-width="0.6" />
<text x="197.00" y="160.00" font-family='"Liberation Serif", serif' font-size="10" font-weight="bold" fill="#000" text-anchor="end">1.5</text>
<text x="197.00" y="186.90" font-family='"Liberation Serif", serif' font-size="10" font-weight="bold" fill="#000" text-anchor="end">1.0</text>
<text x="197.00" y="213.80" font-family='"Liberation Serif", serif' font-size="10" font-weight="bold" fill="#000" text-anchor="end">0.5</text>
<text x="201.70" y="250.50" font-family='"Liberation Serif", serif' font-size="10.2" font-weight="bold" fill="#000" text-anchor="middle">0</text>
<text x="235.60" y="250.50" font-family='"Liberation Serif", serif' font-size="10.2" font-weight="bold" fill="#000" text-anchor="middle">200</text>
<text x="271.10" y="250.50" font-family='"Liberation Serif", serif' font-size="10.2" font-weight="bold" fill="#000" text-anchor="middle">400</text>
<text x="303.10" y="250.50" font-family='"Liberation Serif", serif' font-size="10.2" font-weight="bold" fill="#000" text-anchor="middle">600</text>
<rect x="336.50" y="141.80" width="27.10" height="95.30" fill="#ffd7d8" />
<rect x="363.60" y="141.80" width="16.20" height="95.30" fill="#d6f1e2" />
<rect x="379.80" y="141.80" width="18.00" height="95.30" fill="#f3d4d8" />
<rect x="397.80" y="141.80" width="25.70" height="95.30" fill="#d5e5f4" />
<rect x="423.50" y="141.80" width="25.10" height="95.30" fill="#ffffff" />
<clipPath id="h5"><path d="M337.20,142.30 C337.42,142.30 338.22,130.80 338.50,142.30 C338.78,153.80 338.73,197.35 338.90,211.30 C339.07,225.25 339.10,222.53 339.50,226.00 C339.90,229.47 340.38,230.57 341.30,232.10 C342.22,233.63 343.17,234.58 345.00,235.20 C346.83,235.82 350.13,235.73 352.30,235.80 C354.47,235.87 356.17,235.70 358.00,235.60 C359.83,235.50 362.10,236.60 363.30,235.20 C364.50,233.80 364.48,231.18 365.20,227.20 C365.92,223.22 366.88,217.62 367.60,211.30 C368.32,204.98 368.88,195.20 369.50,189.30 C370.12,183.40 370.73,176.30 371.30,175.90 C371.87,175.50 372.40,182.42 372.90,186.90 C373.40,191.38 373.85,198.73 374.30,202.80 C374.75,206.87 374.88,207.83 375.60,211.30 C376.32,214.77 377.78,220.73 378.60,223.60 C379.42,226.47 379.85,227.42 380.50,228.50 C381.15,229.58 381.45,229.50 382.50,230.10 C383.55,230.70 385.18,231.65 386.80,232.10 C388.42,232.55 390.48,232.60 392.20,232.80 C393.92,233.00 395.93,233.48 397.10,233.30 C398.27,233.12 398.30,232.50 399.20,231.70 C400.10,230.90 401.50,229.40 402.50,228.50 C403.50,227.60 404.30,226.40 405.20,226.30 C406.10,226.20 406.83,227.08 407.90,227.90 C408.97,228.72 410.25,230.12 411.60,231.20 C412.95,232.28 414.55,233.58 416.00,234.40 C417.45,235.22 418.87,235.73 420.30,236.10 C421.73,236.47 422.08,236.55 424.60,236.60 C427.12,236.65 431.52,236.40 435.40,236.40 C439.28,236.40 445.82,236.57 447.90,236.60 L447.90,237.1 L337.20,237.1 Z"/></clipPath>
<rect x="336.50" y="141.80" width="27.10" height="95.30" fill="#c8c0d0" clip-path="url(#h5)"/>
<rect x="363.60" y="141.80" width="16.20" height="95.30" fill="#92dcd2" clip-path="url(#h5)"/>
<rect x="379.80" y="141.80" width="18.00" height="95.30" fill="#c2c0d2" clip-path="url(#h5)"/>
<rect x="397.80" y="141.80" width="25.70" height="95.30" fill="#9dd2f0" clip-path="url(#h5)"/>
<rect x="423.50" y="141.80" width="25.10" height="95.30" fill="#ffffff" clip-path="url(#h5)"/>
<line x1="363.60" y1="141.80" x2="363.60" y2="237.10" stroke="#d04a4a" stroke-width="1.1" />
<line x1="379.80" y1="141.80" x2="379.80" y2="237.10" stroke="#4cae62" stroke-width="1.1" />
<line x1="397.30" y1="141.80" x2="397.30" y2="237.10" stroke="#d04a4a" stroke-width="1" />
<line x1="398.30" y1="141.80" x2="398.30" y2="237.10" stroke="#4a68b8" stroke-width="1" />
<line x1="423.50" y1="141.80" x2="423.50" y2="237.10" stroke="#4a8fd4" stroke-width="1.1" />
<clipPath id="bx5"><rect x="336.5" y="142.10000000000002" width="112.10000000000002" height="95.29999999999998"/></clipPath>
<path d="M337.20,142.30 C337.42,142.30 338.22,130.80 338.50,142.30 C338.78,153.80 338.73,197.35 338.90,211.30 C339.07,225.25 339.10,222.53 339.50,226.00 C339.90,229.47 340.38,230.57 341.30,232.10 C342.22,233.63 343.17,234.58 345.00,235.20 C346.83,235.82 350.13,235.73 352.30,235.80 C354.47,235.87 356.17,235.70 358.00,235.60 C359.83,235.50 362.10,236.60 363.30,235.20 C364.50,233.80 364.48,231.18 365.20,227.20 C365.92,223.22 366.88,217.62 367.60,211.30 C368.32,204.98 368.88,195.20 369.50,189.30 C370.12,183.40 370.73,176.30 371.30,175.90 C371.87,175.50 372.40,182.42 372.90,186.90 C373.40,191.38 373.85,198.73 374.30,202.80 C374.75,206.87 374.88,207.83 375.60,211.30 C376.32,214.77 377.78,220.73 378.60,223.60 C379.42,226.47 379.85,227.42 380.50,228.50 C381.15,229.58 381.45,229.50 382.50,230.10 C383.55,230.70 385.18,231.65 386.80,232.10 C388.42,232.55 390.48,232.60 392.20,232.80 C393.92,233.00 395.93,233.48 397.10,233.30 C398.27,233.12 398.30,232.50 399.20,231.70 C400.10,230.90 401.50,229.40 402.50,228.50 C403.50,227.60 404.30,226.40 405.20,226.30 C406.10,226.20 406.83,227.08 407.90,227.90 C408.97,228.72 410.25,230.12 411.60,231.20 C412.95,232.28 414.55,233.58 416.00,234.40 C417.45,235.22 418.87,235.73 420.30,236.10 C421.73,236.47 422.08,236.55 424.60,236.60 C427.12,236.65 431.52,236.40 435.40,236.40 C439.28,236.40 445.82,236.57 447.90,236.60" fill="none" stroke="#2aaade" stroke-width="0.9" stroke-linejoin="round" clip-path="url(#bx5)"/>
<rect x="336.50" y="141.80" width="112.10" height="95.30" fill="none" stroke="#a8a8a8" stroke-width="0.8" />
<line x1="336.60" y1="141.80" x2="336.60" y2="237.10" stroke="#f23b4b" stroke-width="1.2" />
<line x1="338.50" y1="237.10" x2="338.50" y2="235.60" stroke="#9a9a9a" stroke-width="0.6" />
<line x1="342.70" y1="237.10" x2="342.70" y2="235.60" stroke="#9a9a9a" stroke-width="0.6" />
<line x1="346.90" y1="237.10" x2="346.90" y2="235.60" stroke="#9a9a9a" stroke-width="0.6" />
<line x1="351.10" y1="237.10" x2="351.10" y2="235.60" stroke="#9a9a9a" stroke-width="0.6" />
<line x1="355.30" y1="237.10" x2="355.30" y2="235.60" stroke="#9a9a9a" stroke-width="0.6" />
<line x1="359.50" y1="237.10" x2="359.50" y2="235.60" stroke="#9a9a9a" stroke-width="0.6" />
<line x1="363.70" y1="237.10" x2="363.70" y2="235.60" stroke="#9a9a9a" stroke-width="0.6" />
<line x1="367.90" y1="237.10" x2="367.90" y2="235.60" stroke="#9a9a9a" stroke-width="0.6" />
<line x1="372.10" y1="237.10" x2="372.10" y2="235.60" stroke="#9a9a9a" stroke-width="0.6" />
<line x1="376.30" y1="237.10" x2="376.30" y2="235.60" stroke="#9a9a9a" stroke-width="0.6" />
<line x1="380.50" y1="237.10" x2="380.50" y2="235.60" stroke="#9a9a9a" stroke-width="0.6" />
<line x1="384.70" y1="237.10" x2="384.70" y2="235.60" stroke="#9a9a9a" stroke-width="0.6" />
<line x1="388.90" y1="237.10" x2="388.90" y2="235.60" stroke="#9a9a9a" stroke-width="0.6" />
<line x1="393.10" y1="237.10" x2="393.10" y2="235.60" stroke="#9a9a9a" stroke-width="0.6" />
<line x1="397.30" y1="237.10" x2="397.30" y2="235.60" stroke="#9a9a9a" stroke-width="0.6" />
<line x1="401.50" y1="237.10" x2="401.50" y2="235.60" stroke="#9a9a9a" stroke-width="0.6" />
<line x1="405.70" y1="237.10" x2="405.70" y2="235.60" stroke="#9a9a9a" stroke-width="0.6" />
<line x1="409.90" y1="237.10" x2="409.90" y2="235.60" stroke="#9a9a9a" stroke-width="0.6" />
<line x1="414.10" y1="237.10" x2="414.10" y2="235.60" stroke="#9a9a9a" stroke-width="0.6" />
<line x1="418.30" y1="237.10" x2="418.30" y2="235.60" stroke="#9a9a9a" stroke-width="0.6" />
<line x1="422.50" y1="237.10" x2="422.50" y2="235.60" stroke="#9a9a9a" stroke-width="0.6" />
<line x1="426.70" y1="237.10" x2="426.70" y2="235.60" stroke="#9a9a9a" stroke-width="0.6" />
<line x1="430.90" y1="237.10" x2="430.90" y2="235.60" stroke="#9a9a9a" stroke-width="0.6" />
<line x1="435.10" y1="237.10" x2="435.10" y2="235.60" stroke="#9a9a9a" stroke-width="0.6" />
<line x1="439.30" y1="237.10" x2="439.30" y2="235.60" stroke="#9a9a9a" stroke-width="0.6" />
<line x1="443.50" y1="237.10" x2="443.50" y2="235.60" stroke="#9a9a9a" stroke-width="0.6" />
<line x1="334.70" y1="141.80" x2="336.50" y2="141.80" stroke="#666" stroke-width="0.6" />
<line x1="334.70" y1="165.90" x2="336.50" y2="165.90" stroke="#666" stroke-width="0.6" />
<line x1="334.70" y1="189.30" x2="336.50" y2="189.30" stroke="#666" stroke-width="0.6" />
<line x1="334.70" y1="213.80" x2="336.50" y2="213.80" stroke="#666" stroke-width="0.6" />
<text x="332.30" y="145.30" font-family='"Liberation Serif", serif' font-size="10" font-weight="bold" fill="#000" text-anchor="end">2.0</text>
<text x="332.30" y="169.40" font-family='"Liberation Serif", serif' font-size="10" font-weight="bold" fill="#000" text-anchor="end">1.5</text>
<text x="332.30" y="192.80" font-family='"Liberation Serif", serif' font-size="10" font-weight="bold" fill="#000" text-anchor="end">1.0</text>
<text x="332.30" y="217.30" font-family='"Liberation Serif", serif' font-size="10" font-weight="bold" fill="#000" text-anchor="end">0.5</text>
<text x="337.20" y="250.50" font-family='"Liberation Serif", serif' font-size="10.2" font-weight="bold" fill="#000" text-anchor="middle">0</text>
<text x="371.00" y="250.50" font-family='"Liberation Serif", serif' font-size="10.2" font-weight="bold" fill="#000" text-anchor="middle">200</text>
<text x="405.00" y="250.50" font-family='"Liberation Serif", serif' font-size="10.2" font-weight="bold" fill="#000" text-anchor="middle">400</text>
<text x="437.70" y="250.50" font-family='"Liberation Serif", serif' font-size="10.2" font-weight="bold" fill="#000" text-anchor="middle">600</text>
<rect x="116.6" y="35" width="9.9" height="35.3" fill="#d8f2e3"/>
<text x="89.20" y="85.00" font-family='"Liberation Sans", sans-serif' font-size="12" font-weight="bold" fill="#1c2a6a" text-anchor="middle" textLength="31.2" lengthAdjust="spacingAndGlyphs" transform="rotate(-90 89.20 85.00)" stroke="#1c2a6a" stroke-width="0.1">G2/M</text>
<text x="124.70" y="53.00" font-family='"Liberation Sans", sans-serif' font-size="11.5" font-weight="bold" fill="#1c2a6a" text-anchor="middle" textLength="34.3" lengthAdjust="spacingAndGlyphs" transform="rotate(-90 124.70 53.00)" stroke="#1c2a6a" stroke-width="0.1">G0/G1</text>
<text x="127.90" y="102.30" font-family='"Liberation Sans", sans-serif' font-size="12" font-weight="bold" fill="#1c2a6a" text-anchor="middle" stroke="#1c2a6a" stroke-width="0.1">S</text>
<text x="153.10" y="76.70" font-family='"Liberation Sans", sans-serif' font-size="12" font-weight="bold" fill="#1c2a6a" text-anchor="middle" textLength="31.5" lengthAdjust="spacingAndGlyphs" transform="rotate(-90 153.10 76.70)" stroke="#1c2a6a" stroke-width="0.1">G2/M</text>
<text x="102.30" y="12.50" font-family='"Liberation Serif", serif' font-size="14.5" font-weight="bold" fill="#000" textLength="44.9" lengthAdjust="spacingAndGlyphs">Control</text>
<text x="245.80" y="14.70" font-family='"Liberation Serif", serif' font-size="13.2" font-weight="bold" fill="#000" textLength="17.5" lengthAdjust="spacingAndGlyphs">4 h</text>
<text x="379.20" y="16.00" font-family='"Liberation Serif", serif' font-size="13.2" font-weight="bold" fill="#000" textLength="23" lengthAdjust="spacingAndGlyphs">12 h</text>
<text x="45.40" y="68.00" font-family='"Liberation Serif", serif' font-size="13.5" font-weight="bold" fill="#000" text-anchor="middle" textLength="35.6" lengthAdjust="spacingAndGlyphs" transform="rotate(-90 45.40 68.00)">MCF7</text>
<text x="44.50" y="190.30" font-family='"Liberation Serif", serif' font-size="13.5" font-weight="bold" fill="#000" text-anchor="middle" textLength="82.4" lengthAdjust="spacingAndGlyphs" transform="rotate(-90 44.50 190.30)">MDA-MB-231</text>
<text x="17.30" y="147.60" font-family='"Liberation Serif", serif' font-size="14" font-weight="bold" fill="#000" text-anchor="middle" textLength="101" lengthAdjust="spacingAndGlyphs" transform="rotate(-90 17.30 147.60)">Cell Count (x10<tspan font-size="8" dy="-5">3</tspan><tspan dy="5">)</tspan></text>
<line x1="25.70" y1="26.00" x2="25.70" y2="265.30" stroke="#000" stroke-width="1.3" />
<polygon points="25.7,20.2 22,27.6 29.4,27.6" fill="#000"/>
<line x1="25.10" y1="265.00" x2="445.00" y2="265.00" stroke="#000" stroke-width="1.3" />
<polygon points="451.5,265 443.5,261.4 443.5,268.6" fill="#000"/>
<text x="157.70" y="281.00" font-family='"Liberation Serif", serif' font-size="13.5" font-weight="bold" fill="#000" textLength="184" lengthAdjust="spacingAndGlyphs">PI Fluorescence (DNA content)</text>
<line x1="495.60" y1="65.60" x2="495.60" y2="216.80" stroke="#333" stroke-width="1" />
<line x1="495.10" y1="216.30" x2="682.00" y2="216.30" stroke="#333" stroke-width="1" />
<line x1="492.60" y1="216.30" x2="495.60" y2="216.30" stroke="#000" stroke-width="1" />
<text x="491.10" y="219.90" font-family='"Liberation Sans", sans-serif' font-size="10" font-weight="bold" fill="#000" text-anchor="end">0</text>
<line x1="493.80" y1="197.53" x2="495.60" y2="197.53" stroke="#000" stroke-width="1" />
<line x1="492.60" y1="178.75" x2="495.60" y2="178.75" stroke="#000" stroke-width="1" />
<text x="491.10" y="182.35" font-family='"Liberation Sans", sans-serif' font-size="10" font-weight="bold" fill="#000" text-anchor="end">20</text>
<line x1="493.80" y1="159.98" x2="495.60" y2="159.98" stroke="#000" stroke-width="1" />
<line x1="492.60" y1="141.20" x2="495.60" y2="141.20" stroke="#000" stroke-width="1" />
<text x="491.10" y="144.80" font-family='"Liberation Sans", sans-serif' font-size="10" font-weight="bold" fill="#000" text-anchor="end">40</text>
<line x1="493.80" y1="122.43" x2="495.60" y2="122.43" stroke="#000" stroke-width="1" />
<line x1="492.60" y1="103.65" x2="495.60" y2="103.65" stroke="#000" stroke-width="1" />
<text x="491.10" y="107.25" font-family='"Liberation Sans", sans-serif' font-size="10" font-weight="bold" fill="#000" text-anchor="end">60</text>
<line x1="493.80" y1="84.88" x2="495.60" y2="84.88" stroke="#000" stroke-width="1" />
<line x1="492.60" y1="66.10" x2="495.60" y2="66.10" stroke="#000" stroke-width="1" />
<text x="491.10" y="69.70" font-family='"Liberation Sans", sans-serif' font-size="10" font-weight="bold" fill="#000" text-anchor="end">80</text>
<line x1="496.36" y1="216.30" x2="496.36" y2="218.10" stroke="#000" stroke-width="1" />
<line x1="515.00" y1="216.30" x2="515.00" y2="219.30" stroke="#000" stroke-width="1" />
<text x="515.00" y="229.40" font-family='"Liberation Sans", sans-serif' font-size="10" font-weight="bold" fill="#000" text-anchor="middle">0</text>
<line x1="533.64" y1="216.30" x2="533.64" y2="218.10" stroke="#000" stroke-width="1" />
<line x1="552.27" y1="216.30" x2="552.27" y2="219.30" stroke="#000" stroke-width="1" />
<text x="552.27" y="229.40" font-family='"Liberation Sans", sans-serif' font-size="10" font-weight="bold" fill="#000" text-anchor="middle">5</text>
<line x1="570.91" y1="216.30" x2="570.91" y2="218.10" stroke="#000" stroke-width="1" />
<line x1="589.55" y1="216.30" x2="589.55" y2="219.30" stroke="#000" stroke-width="1" />
<text x="589.55" y="229.40" font-family='"Liberation Sans", sans-serif' font-size="10" font-weight="bold" fill="#000" text-anchor="middle">10</text>
<line x1="608.19" y1="216.30" x2="608.19" y2="218.10" stroke="#000" stroke-width="1" />
<line x1="626.83" y1="216.30" x2="626.83" y2="219.30" stroke="#000" stroke-width="1" />
<text x="626.83" y="229.40" font-family='"Liberation Sans", sans-serif' font-size="10" font-weight="bold" fill="#000" text-anchor="middle">15</text>
<line x1="645.46" y1="216.30" x2="645.46" y2="218.10" stroke="#000" stroke-width="1" />
<line x1="664.10" y1="216.30" x2="664.10" y2="219.30" stroke="#000" stroke-width="1" />
<text x="664.10" y="229.40" font-family='"Liberation Sans", sans-serif' font-size="10" font-weight="bold" fill="#000" text-anchor="middle">20</text>
<text x="589.50" y="243.30" font-family='"Liberation Sans", sans-serif' font-size="10" font-weight="bold" fill="#000" text-anchor="middle">[IA], µM</text>
<text x="472.80" y="138.40" font-family='"Liberation Sans", sans-serif' font-size="10" font-weight="bold" fill="#000" text-anchor="middle" textLength="60" lengthAdjust="spacingAndGlyphs" transform="rotate(-90 472.80 138.40)">% Dead cells</text>
<polyline points="515.00,205.41 552.27,125.24 589.55,129.94 626.83,114.92 664.10,104.59" fill="none" stroke="#e05050" stroke-width="0.9" />
<polyline points="515.00,209.54 552.27,136.88 589.55,132.38 626.83,126.18 664.10,127.12" fill="none" stroke="#e05050" stroke-width="0.9" />
<polyline points="515.00,212.17 552.27,207.29 589.55,198.46 626.83,199.03 664.10,199.03" fill="none" stroke="#222" stroke-width="0.9" />
<polyline points="515.00,213.30 552.27,204.47 589.55,184.76 626.83,150.96 664.10,136.51" fill="none" stroke="#222" stroke-width="0.9" />
<line x1="626.83" y1="122.05" x2="626.83" y2="130.31" stroke="#e05050" stroke-width="0.8" />
<line x1="625.33" y1="122.05" x2="628.33" y2="122.05" stroke="#e05050" stroke-width="0.8" />
<line x1="625.33" y1="130.31" x2="628.33" y2="130.31" stroke="#e05050" stroke-width="0.8" />
<line x1="664.10" y1="132.75" x2="664.10" y2="140.26" stroke="#222" stroke-width="0.8" />
<line x1="662.60" y1="132.75" x2="665.60" y2="132.75" stroke="#222" stroke-width="0.8" />
<line x1="662.60" y1="140.26" x2="665.60" y2="140.26" stroke="#222" stroke-width="0.8" />
<line x1="664.10" y1="124.87" x2="664.10" y2="129.37" stroke="#e05050" stroke-width="0.8" />
<line x1="662.60" y1="124.87" x2="665.60" y2="124.87" stroke="#e05050" stroke-width="0.8" />
<line x1="662.60" y1="129.37" x2="665.60" y2="129.37" stroke="#e05050" stroke-width="0.8" />
<line x1="626.83" y1="149.09" x2="626.83" y2="152.84" stroke="#222" stroke-width="0.8" />
<line x1="625.33" y1="149.09" x2="628.33" y2="149.09" stroke="#222" stroke-width="0.8" />
<line x1="625.33" y1="152.84" x2="628.33" y2="152.84" stroke="#222" stroke-width="0.8" />
<line x1="589.55" y1="128.06" x2="589.55" y2="131.81" stroke="#e05050" stroke-width="0.8" />
<line x1="588.05" y1="128.06" x2="591.05" y2="128.06" stroke="#e05050" stroke-width="0.8" />
<line x1="588.05" y1="131.81" x2="591.05" y2="131.81" stroke="#e05050" stroke-width="0.8" />
<circle cx="515.00" cy="205.41" r="2.4" fill="#fff" stroke="#e8262b" stroke-width="0.9"/>
<circle cx="552.27" cy="125.24" r="2.4" fill="#fff" stroke="#e8262b" stroke-width="0.9"/>
<circle cx="589.55" cy="129.94" r="2.4" fill="#fff" stroke="#e8262b" stroke-width="0.9"/>
<circle cx="626.83" cy="114.92" r="2.4" fill="#fff" stroke="#e8262b" stroke-width="0.9"/>
<circle cx="664.10" cy="104.59" r="2.4" fill="#fff" stroke="#e8262b" stroke-width="0.9"/>
<rect x="512.80" y="207.34" width="4.40" height="4.40" fill="#fff" stroke="#e8262b" stroke-width="0.9" />
<rect x="550.07" y="134.68" width="4.40" height="4.40" fill="#fff" stroke="#e8262b" stroke-width="0.9" />
<rect x="587.35" y="130.18" width="4.40" height="4.40" fill="#fff" stroke="#e8262b" stroke-width="0.9" />
<rect x="624.62" y="123.98" width="4.40" height="4.40" fill="#fff" stroke="#e8262b" stroke-width="0.9" />
<rect x="661.90" y="124.92" width="4.40" height="4.40" fill="#fff" stroke="#e8262b" stroke-width="0.9" />
<circle cx="515.00" cy="212.17" r="2.5" fill="#000"/>
<circle cx="552.27" cy="207.29" r="2.5" fill="#000"/>
<circle cx="589.55" cy="198.46" r="2.5" fill="#000"/>
<circle cx="626.83" cy="199.03" r="2.5" fill="#000"/>
<circle cx="664.10" cy="199.03" r="2.5" fill="#000"/>
<rect x="512.70" y="211.00" width="4.60" height="4.60" fill="#000" />
<rect x="549.98" y="202.17" width="4.60" height="4.60" fill="#000" />
<rect x="587.25" y="182.46" width="4.60" height="4.60" fill="#000" />
<rect x="624.53" y="148.66" width="4.60" height="4.60" fill="#000" />
<rect x="661.80" y="134.21" width="4.60" height="4.60" fill="#000" />
<rect x="501.10" y="65.50" width="93.90" height="43.30" fill="#fff" stroke="#7a7a7a" stroke-width="0.8" />
<line x1="502.00" y1="71.60" x2="517.20" y2="71.60" stroke="#555" stroke-width="0.9" />
<circle cx="509.40" cy="71.60" r="2.3" fill="#000"/>
<text x="519.70" y="74.90" font-family='"Liberation Sans", sans-serif' font-size="9.2" font-weight="bold" fill="#000" textLength="38.8" lengthAdjust="spacingAndGlyphs">MCF7, 4 h</text>
<line x1="502.00" y1="82.05" x2="517.20" y2="82.05" stroke="#e05050" stroke-width="0.9" />
<circle cx="509.40" cy="82.05" r="2.3" fill="#fff" stroke="#e8262b" stroke-width="0.9"/>
<text x="519.70" y="85.35" font-family='"Liberation Sans", sans-serif' font-size="9.2" font-weight="bold" fill="#e8262b" textLength="68.5" lengthAdjust="spacingAndGlyphs">MDA-MB-231, 4 h</text>
<line x1="502.00" y1="92.50" x2="517.20" y2="92.50" stroke="#555" stroke-width="0.9" />
<rect x="507.20" y="90.30" width="4.40" height="4.40" fill="#000" />
<text x="519.70" y="95.80" font-family='"Liberation Sans", sans-serif' font-size="9.2" font-weight="bold" fill="#000" textLength="44.2" lengthAdjust="spacingAndGlyphs">MCF7, 12 h</text>
<line x1="502.00" y1="102.95" x2="517.20" y2="102.95" stroke="#e05050" stroke-width="0.9" />
<rect x="507.30" y="100.85" width="4.20" height="4.20" fill="#fff" stroke="#e8262b" stroke-width="0.9" />
<text x="519.70" y="106.25" font-family='"Liberation Sans", sans-serif' font-size="9.2" font-weight="bold" fill="#e8262b" textLength="73.4" lengthAdjust="spacingAndGlyphs">MDA-MB-231, 12 h</text>
<text x="3.74" y="19.40" font-family='"Liberation Sans", sans-serif' font-size="15.55" font-weight="bold" fill="#000" textLength="10.44" lengthAdjust="spacingAndGlyphs" stroke="#000" stroke-width="0.25">A</text>
<text x="469.01" y="51.00" font-family='"Liberation Sans", sans-serif' font-size="16.28" font-weight="bold" fill="#000" textLength="9.59" lengthAdjust="spacingAndGlyphs" stroke="#000" stroke-width="0.25">B</text>
<text x="20.20" y="296.80" font-family='"Liberation Sans", sans-serif' font-size="16.42" font-weight="bold" fill="#000" textLength="10.6" lengthAdjust="spacingAndGlyphs" stroke="#000" stroke-width="0.25">C</text>
<text x="16.35" y="467.50" font-family='"Liberation Sans", sans-serif' font-size="16.28" font-weight="bold" fill="#000" textLength="12.37" lengthAdjust="spacingAndGlyphs" stroke="#000" stroke-width="0.25">D</text>
<text x="240.80" y="468.00" font-family='"Liberation Sans", sans-serif' font-size="16.57" font-weight="bold" fill="#000" textLength="9.99" lengthAdjust="spacingAndGlyphs" stroke="#000" stroke-width="0.25">E</text>
<text x="460.78" y="467.50" font-family='"Liberation Sans", sans-serif' font-size="16.28" font-weight="bold" fill="#000" textLength="9.28" lengthAdjust="spacingAndGlyphs" stroke="#000" stroke-width="0.25">F</text>
<text x="11.60" y="668.00" font-family='"Liberation Sans", sans-serif' font-size="17.01" font-weight="bold" fill="#000" textLength="13.25" lengthAdjust="spacingAndGlyphs" stroke="#000" stroke-width="0.25">G</text>
<text x="234.22" y="667.30" font-family='"Liberation Sans", sans-serif' font-size="16.42" font-weight="bold" fill="#000" textLength="13.75" lengthAdjust="spacingAndGlyphs" stroke="#000" stroke-width="0.25">H</text>
<text x="457.37" y="668.00" font-family='"Liberation Sans", sans-serif' font-size="16.28" font-weight="bold" fill="#000" textLength="6.76" lengthAdjust="spacingAndGlyphs" stroke="#000" stroke-width="0.25">I</text>
<pattern id="hatch" patternUnits="userSpaceOnUse" width="1.9" height="1.9" patternTransform="rotate(45)"><rect width="1.9" height="1.9" fill="#f6f6f6"/><rect width="0.55" height="1.9" fill="#9a9a9a"/><rect width="1.9" height="0.55" fill="#9a9a9a"/></pattern>
<rect x="58.50" y="343.45" width="16.70" height="19.86" fill="url(#hatch)" />
<rect x="58.50" y="363.32" width="16.70" height="57.48" fill="#fff" stroke="#7a7a7a" stroke-width="0.8" />
<line x1="58.50" y1="343.45" x2="58.50" y2="363.32" stroke="#7a7a7a" stroke-width="0.8" />
<line x1="75.20" y1="343.45" x2="75.20" y2="363.32" stroke="#7a7a7a" stroke-width="0.8" />
<rect x="58.50" y="326.49" width="16.70" height="16.97" fill="#000" stroke="#000" stroke-width="0.6" />
<line x1="66.85" y1="362.32" x2="66.85" y2="364.32" stroke="#444" stroke-width="0.6" />
<line x1="65.65" y1="362.32" x2="68.05" y2="362.32" stroke="#444" stroke-width="0.6" />
<line x1="66.85" y1="342.45" x2="66.85" y2="344.45" stroke="#444" stroke-width="0.6" />
<line x1="65.65" y1="342.45" x2="68.05" y2="342.45" stroke="#444" stroke-width="0.6" />
<line x1="66.85" y1="325.49" x2="66.85" y2="327.49" stroke="#444" stroke-width="0.6" />
<line x1="65.65" y1="325.49" x2="68.05" y2="325.49" stroke="#444" stroke-width="0.6" />
<rect x="85.80" y="341.56" width="16.70" height="14.97" fill="url(#hatch)" />
<rect x="85.80" y="356.53" width="16.70" height="64.27" fill="#fff" stroke="#7a7a7a" stroke-width="0.8" />
<line x1="85.80" y1="341.56" x2="85.80" y2="356.53" stroke="#7a7a7a" stroke-width="0.8" />
<line x1="102.50" y1="341.56" x2="102.50" y2="356.53" stroke="#7a7a7a" stroke-width="0.8" />
<rect x="85.80" y="330.18" width="16.70" height="11.38" fill="#000" stroke="#000" stroke-width="0.6" />
<line x1="94.15" y1="355.53" x2="94.15" y2="357.53" stroke="#444" stroke-width="0.6" />
<line x1="92.95" y1="355.53" x2="95.35" y2="355.53" stroke="#444" stroke-width="0.6" />
<line x1="94.15" y1="340.56" x2="94.15" y2="342.56" stroke="#444" stroke-width="0.6" />
<line x1="92.95" y1="340.56" x2="95.35" y2="340.56" stroke="#444" stroke-width="0.6" />
<line x1="94.15" y1="329.18" x2="94.15" y2="331.18" stroke="#444" stroke-width="0.6" />
<line x1="92.95" y1="329.18" x2="95.35" y2="329.18" stroke="#444" stroke-width="0.6" />
<rect x="113.10" y="338.56" width="16.70" height="14.17" fill="url(#hatch)" />
<rect x="113.10" y="352.74" width="16.70" height="68.06" fill="#fff" stroke="#7a7a7a" stroke-width="0.8" />
<line x1="113.10" y1="338.56" x2="113.10" y2="352.74" stroke="#7a7a7a" stroke-width="0.8" />
<line x1="129.80" y1="338.56" x2="129.80" y2="352.74" stroke="#7a7a7a" stroke-width="0.8" />
<rect x="113.10" y="330.18" width="16.70" height="8.38" fill="#000" stroke="#000" stroke-width="0.6" />
<line x1="121.45" y1="351.74" x2="121.45" y2="353.74" stroke="#444" stroke-width="0.6" />
<line x1="120.25" y1="351.74" x2="122.65" y2="351.74" stroke="#444" stroke-width="0.6" />
<line x1="121.45" y1="337.56" x2="121.45" y2="339.56" stroke="#444" stroke-width="0.6" />
<line x1="120.25" y1="337.56" x2="122.65" y2="337.56" stroke="#444" stroke-width="0.6" />
<line x1="121.45" y1="329.18" x2="121.45" y2="331.18" stroke="#444" stroke-width="0.6" />
<line x1="120.25" y1="329.18" x2="122.65" y2="329.18" stroke="#444" stroke-width="0.6" />
<rect x="140.40" y="342.86" width="16.20" height="10.38" fill="url(#hatch)" />
<rect x="140.40" y="353.24" width="16.20" height="67.56" fill="#fff" stroke="#7a7a7a" stroke-width="0.8" />
<line x1="140.40" y1="342.86" x2="140.40" y2="353.24" stroke="#7a7a7a" stroke-width="0.8" />
<line x1="156.60" y1="342.86" x2="156.60" y2="353.24" stroke="#7a7a7a" stroke-width="0.8" />
<rect x="140.40" y="333.38" width="16.20" height="9.48" fill="#000" stroke="#000" stroke-width="0.6" />
<line x1="148.50" y1="352.24" x2="148.50" y2="354.24" stroke="#444" stroke-width="0.6" />
<line x1="147.30" y1="352.24" x2="149.70" y2="352.24" stroke="#444" stroke-width="0.6" />
<line x1="148.50" y1="341.86" x2="148.50" y2="343.86" stroke="#444" stroke-width="0.6" />
<line x1="147.30" y1="341.86" x2="149.70" y2="341.86" stroke="#444" stroke-width="0.6" />
<line x1="148.50" y1="332.38" x2="148.50" y2="334.38" stroke="#444" stroke-width="0.6" />
<line x1="147.30" y1="332.38" x2="149.70" y2="332.38" stroke="#444" stroke-width="0.6" />
<rect x="167.80" y="336.67" width="16.60" height="9.58" fill="url(#hatch)" />
<rect x="167.80" y="346.25" width="16.60" height="74.55" fill="#fff" stroke="#7a7a7a" stroke-width="0.8" />
<line x1="167.80" y1="336.67" x2="167.80" y2="346.25" stroke="#7a7a7a" stroke-width="0.8" />
<line x1="184.40" y1="336.67" x2="184.40" y2="346.25" stroke="#7a7a7a" stroke-width="0.8" />
<rect x="167.80" y="328.98" width="16.60" height="7.68" fill="#000" stroke="#000" stroke-width="0.6" />
<line x1="176.10" y1="345.25" x2="176.10" y2="347.25" stroke="#444" stroke-width="0.6" />
<line x1="174.90" y1="345.25" x2="177.30" y2="345.25" stroke="#444" stroke-width="0.6" />
<line x1="176.10" y1="335.67" x2="176.10" y2="337.67" stroke="#444" stroke-width="0.6" />
<line x1="174.90" y1="335.67" x2="177.30" y2="335.67" stroke="#444" stroke-width="0.6" />
<line x1="176.10" y1="327.98" x2="176.10" y2="329.98" stroke="#444" stroke-width="0.6" />
<line x1="174.90" y1="327.98" x2="177.30" y2="327.98" stroke="#444" stroke-width="0.6" />
<line x1="53.60" y1="311.50" x2="53.60" y2="421.20" stroke="#333" stroke-width="0.8" />
<line x1="53.20" y1="420.80" x2="188.80" y2="420.80" stroke="#333" stroke-width="0.8" />
<line x1="50.10" y1="420.80" x2="53.60" y2="420.80" stroke="#333" stroke-width="0.7" />
<text x="49.20" y="423.40" font-family='"Liberation Sans", sans-serif' font-size="7" font-weight="bold" fill="#000" text-anchor="end">0</text>
<line x1="51.60" y1="410.82" x2="53.60" y2="410.82" stroke="#333" stroke-width="0.7" />
<line x1="50.10" y1="400.84" x2="53.60" y2="400.84" stroke="#333" stroke-width="0.7" />
<text x="49.20" y="403.44" font-family='"Liberation Sans", sans-serif' font-size="7" font-weight="bold" fill="#000" text-anchor="end">20</text>
<line x1="51.60" y1="390.86" x2="53.60" y2="390.86" stroke="#333" stroke-width="0.7" />
<line x1="50.10" y1="380.88" x2="53.60" y2="380.88" stroke="#333" stroke-width="0.7" />
<text x="49.20" y="383.48" font-family='"Liberation Sans", sans-serif' font-size="7" font-weight="bold" fill="#000" text-anchor="end">40</text>
<line x1="51.60" y1="370.90" x2="53.60" y2="370.90" stroke="#333" stroke-width="0.7" />
<line x1="50.10" y1="360.92" x2="53.60" y2="360.92" stroke="#333" stroke-width="0.7" />
<text x="49.20" y="363.52" font-family='"Liberation Sans", sans-serif' font-size="7" font-weight="bold" fill="#000" text-anchor="end">60</text>
<line x1="51.60" y1="350.94" x2="53.60" y2="350.94" stroke="#333" stroke-width="0.7" />
<line x1="50.10" y1="340.96" x2="53.60" y2="340.96" stroke="#333" stroke-width="0.7" />
<text x="49.20" y="343.56" font-family='"Liberation Sans", sans-serif' font-size="7" font-weight="bold" fill="#000" text-anchor="end">80</text>
<line x1="51.60" y1="330.98" x2="53.60" y2="330.98" stroke="#333" stroke-width="0.7" />
<line x1="50.10" y1="321.00" x2="53.60" y2="321.00" stroke="#333" stroke-width="0.7" />
<text x="49.20" y="323.60" font-family='"Liberation Sans", sans-serif' font-size="7" font-weight="bold" fill="#000" text-anchor="end">100</text>
<line x1="66.70" y1="420.80" x2="66.70" y2="423.30" stroke="#333" stroke-width="0.7" />
<line x1="80.35" y1="420.80" x2="80.35" y2="422.30" stroke="#333" stroke-width="0.7" />
<line x1="94.00" y1="420.80" x2="94.00" y2="423.30" stroke="#333" stroke-width="0.7" />
<line x1="107.65" y1="420.80" x2="107.65" y2="422.30" stroke="#333" stroke-width="0.7" />
<line x1="121.30" y1="420.80" x2="121.30" y2="423.30" stroke="#333" stroke-width="0.7" />
<line x1="134.95" y1="420.80" x2="134.95" y2="422.30" stroke="#333" stroke-width="0.7" />
<line x1="148.60" y1="420.80" x2="148.60" y2="423.30" stroke="#333" stroke-width="0.7" />
<line x1="162.25" y1="420.80" x2="162.25" y2="422.30" stroke="#333" stroke-width="0.7" />
<line x1="175.90" y1="420.80" x2="175.90" y2="423.30" stroke="#333" stroke-width="0.7" />
<text x="66.70" y="430.00" font-family='"Liberation Sans", sans-serif' font-size="7" font-weight="bold" fill="#000" text-anchor="middle">0</text>
<text x="94.00" y="430.00" font-family='"Liberation Sans", sans-serif' font-size="7" font-weight="bold" fill="#000" text-anchor="middle">5</text>
<text x="121.30" y="430.00" font-family='"Liberation Sans", sans-serif' font-size="7" font-weight="bold" fill="#000" text-anchor="middle">10</text>
<text x="148.60" y="430.00" font-family='"Liberation Sans", sans-serif' font-size="7" font-weight="bold" fill="#000" text-anchor="middle">15</text>
<text x="175.90" y="430.00" font-family='"Liberation Sans", sans-serif' font-size="7" font-weight="bold" fill="#000" text-anchor="middle">20</text>
<text x="117.40" y="441.00" font-family='"Liberation Sans", sans-serif' font-size="7" font-weight="bold" fill="#000" text-anchor="middle">[IA], µM</text>
<text x="74.70" y="318.50" font-family='"Liberation Sans", sans-serif' font-size="7.2" font-weight="bold" fill="#000" textLength="34.3" lengthAdjust="spacingAndGlyphs">MCF7, 4 h</text>
<rect x="213.50" y="347.96" width="16.20" height="7.90" fill="url(#hatch)" />
<rect x="213.50" y="355.86" width="16.20" height="65.14" fill="#fff" stroke="#7a7a7a" stroke-width="0.8" />
<line x1="213.50" y1="347.96" x2="213.50" y2="355.86" stroke="#7a7a7a" stroke-width="0.8" />
<line x1="229.70" y1="347.96" x2="229.70" y2="355.86" stroke="#7a7a7a" stroke-width="0.8" />
<rect x="213.50" y="323.78" width="16.20" height="24.18" fill="#000" stroke="#000" stroke-width="0.6" />
<line x1="221.60" y1="354.86" x2="221.60" y2="356.86" stroke="#444" stroke-width="0.6" />
<line x1="220.40" y1="354.86" x2="222.80" y2="354.86" stroke="#444" stroke-width="0.6" />
<line x1="221.60" y1="346.96" x2="221.60" y2="348.96" stroke="#444" stroke-width="0.6" />
<line x1="220.40" y1="346.96" x2="222.80" y2="346.96" stroke="#444" stroke-width="0.6" />
<line x1="221.60" y1="322.78" x2="221.60" y2="324.78" stroke="#444" stroke-width="0.6" />
<line x1="220.40" y1="322.78" x2="222.80" y2="322.78" stroke="#444" stroke-width="0.6" />
<rect x="240.10" y="369.68" width="16.40" height="9.38" fill="url(#hatch)" />
<rect x="240.10" y="379.05" width="16.40" height="41.95" fill="#fff" stroke="#7a7a7a" stroke-width="0.8" />
<line x1="240.10" y1="369.68" x2="240.10" y2="379.05" stroke="#7a7a7a" stroke-width="0.8" />
<line x1="256.50" y1="369.68" x2="256.50" y2="379.05" stroke="#7a7a7a" stroke-width="0.8" />
<rect x="240.10" y="327.73" width="16.40" height="41.95" fill="#000" stroke="#000" stroke-width="0.6" />
<line x1="248.30" y1="378.05" x2="248.30" y2="380.05" stroke="#444" stroke-width="0.6" />
<line x1="247.10" y1="378.05" x2="249.50" y2="378.05" stroke="#444" stroke-width="0.6" />
<line x1="248.30" y1="368.68" x2="248.30" y2="370.68" stroke="#444" stroke-width="0.6" />
<line x1="247.10" y1="368.68" x2="249.50" y2="368.68" stroke="#444" stroke-width="0.6" />
<line x1="248.30" y1="326.73" x2="248.30" y2="328.73" stroke="#444" stroke-width="0.6" />
<line x1="247.10" y1="326.73" x2="249.50" y2="326.73" stroke="#444" stroke-width="0.6" />
<rect x="267.40" y="368.69" width="16.10" height="8.88" fill="url(#hatch)" />
<rect x="267.40" y="377.57" width="16.10" height="43.43" fill="#fff" stroke="#7a7a7a" stroke-width="0.8" />
<line x1="267.40" y1="368.69" x2="267.40" y2="377.57" stroke="#7a7a7a" stroke-width="0.8" />
<line x1="283.50" y1="368.69" x2="283.50" y2="377.57" stroke="#7a7a7a" stroke-width="0.8" />
<rect x="267.40" y="334.14" width="16.10" height="34.55" fill="#000" stroke="#000" stroke-width="0.6" />
<line x1="275.45" y1="376.57" x2="275.45" y2="378.57" stroke="#444" stroke-width="0.6" />
<line x1="274.25" y1="376.57" x2="276.65" y2="376.57" stroke="#444" stroke-width="0.6" />
<line x1="275.45" y1="367.69" x2="275.45" y2="369.69" stroke="#444" stroke-width="0.6" />
<line x1="274.25" y1="367.69" x2="276.65" y2="367.69" stroke="#444" stroke-width="0.6" />
<line x1="275.45" y1="333.14" x2="275.45" y2="335.14" stroke="#444" stroke-width="0.6" />
<line x1="274.25" y1="333.14" x2="276.65" y2="333.14" stroke="#444" stroke-width="0.6" />
<rect x="294.70" y="366.22" width="16.10" height="14.31" fill="url(#hatch)" />
<rect x="294.70" y="380.53" width="16.10" height="40.47" fill="#fff" stroke="#7a7a7a" stroke-width="0.8" />
<line x1="294.70" y1="366.22" x2="294.70" y2="380.53" stroke="#7a7a7a" stroke-width="0.8" />
<line x1="310.80" y1="366.22" x2="310.80" y2="380.53" stroke="#7a7a7a" stroke-width="0.8" />
<rect x="294.70" y="345.00" width="16.10" height="21.22" fill="#000" stroke="#000" stroke-width="0.6" />
<line x1="302.75" y1="379.53" x2="302.75" y2="381.53" stroke="#444" stroke-width="0.6" />
<line x1="301.55" y1="379.53" x2="303.95" y2="379.53" stroke="#444" stroke-width="0.6" />
<line x1="302.75" y1="365.22" x2="302.75" y2="367.22" stroke="#444" stroke-width="0.6" />
<line x1="301.55" y1="365.22" x2="303.95" y2="365.22" stroke="#444" stroke-width="0.6" />
<line x1="302.75" y1="344.00" x2="302.75" y2="346.00" stroke="#444" stroke-width="0.6" />
<line x1="301.55" y1="344.00" x2="303.95" y2="344.00" stroke="#444" stroke-width="0.6" />
<rect x="321.50" y="366.22" width="16.10" height="16.29" fill="url(#hatch)" />
<rect x="321.50" y="382.51" width="16.10" height="38.49" fill="#fff" stroke="#7a7a7a" stroke-width="0.8" />
<line x1="321.50" y1="366.22" x2="321.50" y2="382.51" stroke="#7a7a7a" stroke-width="0.8" />
<line x1="337.60" y1="366.22" x2="337.60" y2="382.51" stroke="#7a7a7a" stroke-width="0.8" />
<rect x="321.50" y="346.98" width="16.10" height="19.25" fill="#000" stroke="#000" stroke-width="0.6" />
<line x1="329.55" y1="381.51" x2="329.55" y2="383.51" stroke="#444" stroke-width="0.6" />
<line x1="328.35" y1="381.51" x2="330.75" y2="381.51" stroke="#444" stroke-width="0.6" />
<line x1="329.55" y1="365.22" x2="329.55" y2="367.22" stroke="#444" stroke-width="0.6" />
<line x1="328.35" y1="365.22" x2="330.75" y2="365.22" stroke="#444" stroke-width="0.6" />
<line x1="329.55" y1="345.98" x2="329.55" y2="347.98" stroke="#444" stroke-width="0.6" />
<line x1="328.35" y1="345.98" x2="330.75" y2="345.98" stroke="#444" stroke-width="0.6" />
<line x1="208.10" y1="312.80" x2="208.10" y2="421.40" stroke="#333" stroke-width="0.8" />
<line x1="207.70" y1="421.00" x2="342.60" y2="421.00" stroke="#333" stroke-width="0.8" />
<line x1="204.60" y1="421.00" x2="208.10" y2="421.00" stroke="#333" stroke-width="0.7" />
<text x="203.70" y="423.60" font-family='"Liberation Sans", sans-serif' font-size="7" font-weight="bold" fill="#000" text-anchor="end">0</text>
<line x1="206.10" y1="411.13" x2="208.10" y2="411.13" stroke="#333" stroke-width="0.7" />
<line x1="204.60" y1="401.26" x2="208.10" y2="401.26" stroke="#333" stroke-width="0.7" />
<text x="203.70" y="403.86" font-family='"Liberation Sans", sans-serif' font-size="7" font-weight="bold" fill="#000" text-anchor="end">20</text>
<line x1="206.10" y1="391.39" x2="208.10" y2="391.39" stroke="#333" stroke-width="0.7" />
<line x1="204.60" y1="381.52" x2="208.10" y2="381.52" stroke="#333" stroke-width="0.7" />
<text x="203.70" y="384.12" font-family='"Liberation Sans", sans-serif' font-size="7" font-weight="bold" fill="#000" text-anchor="end">40</text>
<line x1="206.10" y1="371.65" x2="208.10" y2="371.65" stroke="#333" stroke-width="0.7" />
<line x1="204.60" y1="361.78" x2="208.10" y2="361.78" stroke="#333" stroke-width="0.7" />
<text x="203.70" y="364.38" font-family='"Liberation Sans", sans-serif' font-size="7" font-weight="bold" fill="#000" text-anchor="end">60</text>
<line x1="206.10" y1="351.91" x2="208.10" y2="351.91" stroke="#333" stroke-width="0.7" />
<line x1="204.60" y1="342.04" x2="208.10" y2="342.04" stroke="#333" stroke-width="0.7" />
<text x="203.70" y="344.64" font-family='"Liberation Sans", sans-serif' font-size="7" font-weight="bold" fill="#000" text-anchor="end">80</text>
<line x1="206.10" y1="332.17" x2="208.10" y2="332.17" stroke="#333" stroke-width="0.7" />
<line x1="204.60" y1="322.30" x2="208.10" y2="322.30" stroke="#333" stroke-width="0.7" />
<text x="203.70" y="324.90" font-family='"Liberation Sans", sans-serif' font-size="7" font-weight="bold" fill="#000" text-anchor="end">100</text>
<line x1="221.50" y1="421.00" x2="221.50" y2="423.50" stroke="#333" stroke-width="0.7" />
<line x1="235.03" y1="421.00" x2="235.03" y2="422.50" stroke="#333" stroke-width="0.7" />
<line x1="248.55" y1="421.00" x2="248.55" y2="423.50" stroke="#333" stroke-width="0.7" />
<line x1="262.07" y1="421.00" x2="262.07" y2="422.50" stroke="#333" stroke-width="0.7" />
<line x1="275.60" y1="421.00" x2="275.60" y2="423.50" stroke="#333" stroke-width="0.7" />
<line x1="289.12" y1="421.00" x2="289.12" y2="422.50" stroke="#333" stroke-width="0.7" />
<line x1="302.65" y1="421.00" x2="302.65" y2="423.50" stroke="#333" stroke-width="0.7" />
<line x1="316.17" y1="421.00" x2="316.17" y2="422.50" stroke="#333" stroke-width="0.7" />
<line x1="329.70" y1="421.00" x2="329.70" y2="423.50" stroke="#333" stroke-width="0.7" />
<text x="221.50" y="430.00" font-family='"Liberation Sans", sans-serif' font-size="7" font-weight="bold" fill="#000" text-anchor="middle">0</text>
<text x="248.30" y="430.00" font-family='"Liberation Sans", sans-serif' font-size="7" font-weight="bold" fill="#000" text-anchor="middle">5</text>
<text x="275.60" y="430.00" font-family='"Liberation Sans", sans-serif' font-size="7" font-weight="bold" fill="#000" text-anchor="middle">10</text>
<text x="302.90" y="430.00" font-family='"Liberation Sans", sans-serif' font-size="7" font-weight="bold" fill="#000" text-anchor="middle">15</text>
<text x="329.70" y="430.00" font-family='"Liberation Sans", sans-serif' font-size="7" font-weight="bold" fill="#000" text-anchor="middle">20</text>
<text x="272.60" y="440.40" font-family='"Liberation Sans", sans-serif' font-size="7" font-weight="bold" fill="#000" text-anchor="middle">[IA], µM</text>
<text x="244.00" y="317.60" font-family='"Liberation Sans", sans-serif' font-size="7.2" font-weight="bold" fill="#000" textLength="38.3" lengthAdjust="spacingAndGlyphs">MCF7, 12 h</text>
<rect x="365.60" y="338.77" width="16.60" height="17.76" fill="url(#hatch)" />
<rect x="365.60" y="356.53" width="16.60" height="65.47" fill="#fff" stroke="#7a7a7a" stroke-width="0.8" />
<line x1="365.60" y1="338.77" x2="365.60" y2="356.53" stroke="#7a7a7a" stroke-width="0.8" />
<line x1="382.20" y1="338.77" x2="382.20" y2="356.53" stroke="#7a7a7a" stroke-width="0.8" />
<rect x="365.60" y="323.55" width="16.60" height="15.22" fill="#000" stroke="#000" stroke-width="0.6" />
<line x1="373.90" y1="355.53" x2="373.90" y2="357.53" stroke="#444" stroke-width="0.6" />
<line x1="372.70" y1="355.53" x2="375.10" y2="355.53" stroke="#444" stroke-width="0.6" />
<line x1="373.90" y1="337.77" x2="373.90" y2="339.77" stroke="#444" stroke-width="0.6" />
<line x1="372.70" y1="337.77" x2="375.10" y2="337.77" stroke="#444" stroke-width="0.6" />
<line x1="373.90" y1="322.55" x2="373.90" y2="324.55" stroke="#444" stroke-width="0.6" />
<line x1="372.70" y1="322.55" x2="375.10" y2="322.55" stroke="#444" stroke-width="0.6" />
<rect x="393.40" y="339.78" width="16.80" height="7.61" fill="url(#hatch)" />
<rect x="393.40" y="347.40" width="16.80" height="74.60" fill="#fff" stroke="#7a7a7a" stroke-width="0.8" />
<line x1="393.40" y1="339.78" x2="393.40" y2="347.40" stroke="#7a7a7a" stroke-width="0.8" />
<line x1="410.20" y1="339.78" x2="410.20" y2="347.40" stroke="#7a7a7a" stroke-width="0.8" />
<rect x="393.40" y="334.20" width="16.80" height="5.58" fill="#000" stroke="#000" stroke-width="0.6" />
<line x1="401.80" y1="346.40" x2="401.80" y2="348.40" stroke="#444" stroke-width="0.6" />
<line x1="400.60" y1="346.40" x2="403.00" y2="346.40" stroke="#444" stroke-width="0.6" />
<line x1="401.80" y1="338.78" x2="401.80" y2="340.78" stroke="#444" stroke-width="0.6" />
<line x1="400.60" y1="338.78" x2="403.00" y2="338.78" stroke="#444" stroke-width="0.6" />
<line x1="401.80" y1="333.20" x2="401.80" y2="335.20" stroke="#444" stroke-width="0.6" />
<line x1="400.60" y1="333.20" x2="403.00" y2="333.20" stroke="#444" stroke-width="0.6" />
<rect x="421.40" y="337.75" width="16.90" height="7.61" fill="url(#hatch)" />
<rect x="421.40" y="345.37" width="16.90" height="76.63" fill="#fff" stroke="#7a7a7a" stroke-width="0.8" />
<line x1="421.40" y1="337.75" x2="421.40" y2="345.37" stroke="#7a7a7a" stroke-width="0.8" />
<line x1="438.30" y1="337.75" x2="438.30" y2="345.37" stroke="#7a7a7a" stroke-width="0.8" />
<rect x="421.40" y="332.17" width="16.90" height="5.58" fill="#000" stroke="#000" stroke-width="0.6" />
<line x1="429.85" y1="344.37" x2="429.85" y2="346.37" stroke="#444" stroke-width="0.6" />
<line x1="428.65" y1="344.37" x2="431.05" y2="344.37" stroke="#444" stroke-width="0.6" />
<line x1="429.85" y1="336.75" x2="429.85" y2="338.75" stroke="#444" stroke-width="0.6" />
<line x1="428.65" y1="336.75" x2="431.05" y2="336.75" stroke="#444" stroke-width="0.6" />
<line x1="429.85" y1="331.17" x2="429.85" y2="333.17" stroke="#444" stroke-width="0.6" />
<line x1="428.65" y1="331.17" x2="431.05" y2="331.17" stroke="#444" stroke-width="0.6" />
<rect x="449.20" y="341.81" width="16.90" height="9.64" fill="url(#hatch)" />
<rect x="449.20" y="351.46" width="16.90" height="70.54" fill="#fff" stroke="#7a7a7a" stroke-width="0.8" />
<line x1="449.20" y1="341.81" x2="449.20" y2="351.46" stroke="#7a7a7a" stroke-width="0.8" />
<line x1="466.10" y1="341.81" x2="466.10" y2="351.46" stroke="#7a7a7a" stroke-width="0.8" />
<rect x="449.20" y="336.23" width="16.90" height="5.58" fill="#000" stroke="#000" stroke-width="0.6" />
<line x1="457.65" y1="350.46" x2="457.65" y2="352.46" stroke="#444" stroke-width="0.6" />
<line x1="456.45" y1="350.46" x2="458.85" y2="350.46" stroke="#444" stroke-width="0.6" />
<line x1="457.65" y1="340.81" x2="457.65" y2="342.81" stroke="#444" stroke-width="0.6" />
<line x1="456.45" y1="340.81" x2="458.85" y2="340.81" stroke="#444" stroke-width="0.6" />
<line x1="457.65" y1="335.23" x2="457.65" y2="337.23" stroke="#444" stroke-width="0.6" />
<line x1="456.45" y1="335.23" x2="458.85" y2="335.23" stroke="#444" stroke-width="0.6" />
<rect x="477.30" y="342.83" width="16.60" height="7.61" fill="url(#hatch)" />
<rect x="477.30" y="350.44" width="16.60" height="71.56" fill="#fff" stroke="#7a7a7a" stroke-width="0.8" />
<line x1="477.30" y1="342.83" x2="477.30" y2="350.44" stroke="#7a7a7a" stroke-width="0.8" />
<line x1="493.90" y1="342.83" x2="493.90" y2="350.44" stroke="#7a7a7a" stroke-width="0.8" />
<rect x="477.30" y="336.74" width="16.60" height="6.09" fill="#000" stroke="#000" stroke-width="0.6" />
<line x1="485.60" y1="349.44" x2="485.60" y2="351.44" stroke="#444" stroke-width="0.6" />
<line x1="484.40" y1="349.44" x2="486.80" y2="349.44" stroke="#444" stroke-width="0.6" />
<line x1="485.60" y1="341.83" x2="485.60" y2="343.83" stroke="#444" stroke-width="0.6" />
<line x1="484.40" y1="341.83" x2="486.80" y2="341.83" stroke="#444" stroke-width="0.6" />
<line x1="485.60" y1="335.74" x2="485.60" y2="337.74" stroke="#444" stroke-width="0.6" />
<line x1="484.40" y1="335.74" x2="486.80" y2="335.74" stroke="#444" stroke-width="0.6" />
<line x1="359.90" y1="310.40" x2="359.90" y2="422.40" stroke="#333" stroke-width="0.8" />
<line x1="359.50" y1="422.00" x2="498.80" y2="422.00" stroke="#333" stroke-width="0.8" />
<line x1="356.40" y1="422.00" x2="359.90" y2="422.00" stroke="#333" stroke-width="0.7" />
<text x="355.50" y="424.60" font-family='"Liberation Sans", sans-serif' font-size="7" font-weight="bold" fill="#000" text-anchor="end">0</text>
<line x1="357.90" y1="411.85" x2="359.90" y2="411.85" stroke="#333" stroke-width="0.7" />
<line x1="356.40" y1="401.70" x2="359.90" y2="401.70" stroke="#333" stroke-width="0.7" />
<text x="355.50" y="404.30" font-family='"Liberation Sans", sans-serif' font-size="7" font-weight="bold" fill="#000" text-anchor="end">20</text>
<line x1="357.90" y1="391.55" x2="359.90" y2="391.55" stroke="#333" stroke-width="0.7" />
<line x1="356.40" y1="381.40" x2="359.90" y2="381.40" stroke="#333" stroke-width="0.7" />
<text x="355.50" y="384.00" font-family='"Liberation Sans", sans-serif' font-size="7" font-weight="bold" fill="#000" text-anchor="end">40</text>
<line x1="357.90" y1="371.25" x2="359.90" y2="371.25" stroke="#333" stroke-width="0.7" />
<line x1="356.40" y1="361.10" x2="359.90" y2="361.10" stroke="#333" stroke-width="0.7" />
<text x="355.50" y="363.70" font-family='"Liberation Sans", sans-serif' font-size="7" font-weight="bold" fill="#000" text-anchor="end">60</text>
<line x1="357.90" y1="350.95" x2="359.90" y2="350.95" stroke="#333" stroke-width="0.7" />
<line x1="356.40" y1="340.80" x2="359.90" y2="340.80" stroke="#333" stroke-width="0.7" />
<text x="355.50" y="343.40" font-family='"Liberation Sans", sans-serif' font-size="7" font-weight="bold" fill="#000" text-anchor="end">80</text>
<line x1="357.90" y1="330.65" x2="359.90" y2="330.65" stroke="#333" stroke-width="0.7" />
<line x1="356.40" y1="320.50" x2="359.90" y2="320.50" stroke="#333" stroke-width="0.7" />
<text x="355.50" y="323.10" font-family='"Liberation Sans", sans-serif' font-size="7" font-weight="bold" fill="#000" text-anchor="end">100</text>
<line x1="360.10" y1="422.00" x2="360.10" y2="423.50" stroke="#333" stroke-width="0.7" />
<line x1="374.00" y1="422.00" x2="374.00" y2="424.50" stroke="#333" stroke-width="0.7" />
<line x1="387.90" y1="422.00" x2="387.90" y2="423.50" stroke="#333" stroke-width="0.7" />
<line x1="401.80" y1="422.00" x2="401.80" y2="424.50" stroke="#333" stroke-width="0.7" />
<line x1="415.70" y1="422.00" x2="415.70" y2="423.50" stroke="#333" stroke-width="0.7" />
<line x1="429.60" y1="422.00" x2="429.60" y2="424.50" stroke="#333" stroke-width="0.7" />
<line x1="443.50" y1="422.00" x2="443.50" y2="423.50" stroke="#333" stroke-width="0.7" />
<line x1="457.40" y1="422.00" x2="457.40" y2="424.50" stroke="#333" stroke-width="0.7" />
<line x1="471.30" y1="422.00" x2="471.30" y2="423.50" stroke="#333" stroke-width="0.7" />
<line x1="485.20" y1="422.00" x2="485.20" y2="424.50" stroke="#333" stroke-width="0.7" />
<text x="374.00" y="432.30" font-family='"Liberation Sans", sans-serif' font-size="7" font-weight="bold" fill="#000" text-anchor="middle">0</text>
<text x="401.60" y="432.30" font-family='"Liberation Sans", sans-serif' font-size="7" font-weight="bold" fill="#000" text-anchor="middle">5</text>
<text x="429.40" y="432.30" font-family='"Liberation Sans", sans-serif' font-size="7" font-weight="bold" fill="#000" text-anchor="middle">10</text>
<text x="457.20" y="432.30" font-family='"Liberation Sans", sans-serif' font-size="7" font-weight="bold" fill="#000" text-anchor="middle">15</text>
<text x="485.20" y="432.30" font-family='"Liberation Sans", sans-serif' font-size="7" font-weight="bold" fill="#000" text-anchor="middle">20</text>
<text x="425.60" y="443.00" font-family='"Liberation Sans", sans-serif' font-size="7" font-weight="bold" fill="#000" text-anchor="middle">[IA], µM</text>
<text x="376.70" y="314.30" font-family='"Liberation Sans", sans-serif' font-size="7.2" font-weight="bold" fill="#000" textLength="60.1" lengthAdjust="spacingAndGlyphs">MDA-MB-231, 4 h</text>
<rect x="522.10" y="346.18" width="16.50" height="13.99" fill="url(#hatch)" />
<rect x="522.10" y="360.16" width="16.50" height="62.94" fill="#fff" stroke="#7a7a7a" stroke-width="0.8" />
<line x1="522.10" y1="346.18" x2="522.10" y2="360.16" stroke="#7a7a7a" stroke-width="0.8" />
<line x1="538.60" y1="346.18" x2="538.60" y2="360.16" stroke="#7a7a7a" stroke-width="0.8" />
<rect x="522.10" y="325.20" width="16.50" height="20.98" fill="#000" stroke="#000" stroke-width="0.6" />
<line x1="530.35" y1="359.16" x2="530.35" y2="361.16" stroke="#444" stroke-width="0.6" />
<line x1="529.15" y1="359.16" x2="531.55" y2="359.16" stroke="#444" stroke-width="0.6" />
<line x1="530.35" y1="345.18" x2="530.35" y2="347.18" stroke="#444" stroke-width="0.6" />
<line x1="529.15" y1="345.18" x2="531.55" y2="345.18" stroke="#444" stroke-width="0.6" />
<line x1="530.35" y1="324.20" x2="530.35" y2="326.20" stroke="#444" stroke-width="0.6" />
<line x1="529.15" y1="324.20" x2="531.55" y2="324.20" stroke="#444" stroke-width="0.6" />
<rect x="549.40" y="347.68" width="16.80" height="9.99" fill="url(#hatch)" />
<rect x="549.40" y="357.67" width="16.80" height="65.43" fill="#fff" stroke="#7a7a7a" stroke-width="0.8" />
<line x1="549.40" y1="347.68" x2="549.40" y2="357.67" stroke="#7a7a7a" stroke-width="0.8" />
<line x1="566.20" y1="347.68" x2="566.20" y2="357.67" stroke="#7a7a7a" stroke-width="0.8" />
<rect x="549.40" y="335.69" width="16.80" height="11.99" fill="#000" stroke="#000" stroke-width="0.6" />
<line x1="557.80" y1="356.67" x2="557.80" y2="358.67" stroke="#444" stroke-width="0.6" />
<line x1="556.60" y1="356.67" x2="559.00" y2="356.67" stroke="#444" stroke-width="0.6" />
<line x1="557.80" y1="346.68" x2="557.80" y2="348.68" stroke="#444" stroke-width="0.6" />
<line x1="556.60" y1="346.68" x2="559.00" y2="346.68" stroke="#444" stroke-width="0.6" />
<line x1="557.80" y1="334.69" x2="557.80" y2="336.69" stroke="#444" stroke-width="0.6" />
<line x1="556.60" y1="334.69" x2="559.00" y2="334.69" stroke="#444" stroke-width="0.6" />
<rect x="577.00" y="344.18" width="16.70" height="7.49" fill="url(#hatch)" />
<rect x="577.00" y="351.67" width="16.70" height="71.43" fill="#fff" stroke="#7a7a7a" stroke-width="0.8" />
<line x1="577.00" y1="344.18" x2="577.00" y2="351.67" stroke="#7a7a7a" stroke-width="0.8" />
<line x1="593.70" y1="344.18" x2="593.70" y2="351.67" stroke="#7a7a7a" stroke-width="0.8" />
<rect x="577.00" y="334.19" width="16.70" height="9.99" fill="#000" stroke="#000" stroke-width="0.6" />
<line x1="585.35" y1="350.67" x2="585.35" y2="352.67" stroke="#444" stroke-width="0.6" />
<line x1="584.15" y1="350.67" x2="586.55" y2="350.67" stroke="#444" stroke-width="0.6" />
<line x1="585.35" y1="343.18" x2="585.35" y2="345.18" stroke="#444" stroke-width="0.6" />
<line x1="584.15" y1="343.18" x2="586.55" y2="343.18" stroke="#444" stroke-width="0.6" />
<line x1="585.35" y1="333.19" x2="585.35" y2="335.19" stroke="#444" stroke-width="0.6" />
<line x1="584.15" y1="333.19" x2="586.55" y2="333.19" stroke="#444" stroke-width="0.6" />
<rect x="604.50" y="346.68" width="17.00" height="5.99" fill="url(#hatch)" />
<rect x="604.50" y="352.67" width="17.00" height="70.43" fill="#fff" stroke="#7a7a7a" stroke-width="0.8" />
<line x1="604.50" y1="346.68" x2="604.50" y2="352.67" stroke="#7a7a7a" stroke-width="0.8" />
<line x1="621.50" y1="346.68" x2="621.50" y2="352.67" stroke="#7a7a7a" stroke-width="0.8" />
<rect x="604.50" y="335.69" width="17.00" height="10.99" fill="#000" stroke="#000" stroke-width="0.6" />
<line x1="613.00" y1="351.67" x2="613.00" y2="353.67" stroke="#444" stroke-width="0.6" />
<line x1="611.80" y1="351.67" x2="614.20" y2="351.67" stroke="#444" stroke-width="0.6" />
<line x1="613.00" y1="345.68" x2="613.00" y2="347.68" stroke="#444" stroke-width="0.6" />
<line x1="611.80" y1="345.68" x2="614.20" y2="345.68" stroke="#444" stroke-width="0.6" />
<line x1="613.00" y1="334.69" x2="613.00" y2="336.69" stroke="#444" stroke-width="0.6" />
<line x1="611.80" y1="334.69" x2="614.20" y2="334.69" stroke="#444" stroke-width="0.6" />
<rect x="632.30" y="348.67" width="16.20" height="7.99" fill="url(#hatch)" />
<rect x="632.30" y="356.67" width="16.20" height="66.43" fill="#fff" stroke="#7a7a7a" stroke-width="0.8" />
<line x1="632.30" y1="348.67" x2="632.30" y2="356.67" stroke="#7a7a7a" stroke-width="0.8" />
<line x1="648.50" y1="348.67" x2="648.50" y2="356.67" stroke="#7a7a7a" stroke-width="0.8" />
<rect x="632.30" y="337.19" width="16.20" height="11.49" fill="#000" stroke="#000" stroke-width="0.6" />
<line x1="640.40" y1="355.67" x2="640.40" y2="357.67" stroke="#444" stroke-width="0.6" />
<line x1="639.20" y1="355.67" x2="641.60" y2="355.67" stroke="#444" stroke-width="0.6" />
<line x1="640.40" y1="347.67" x2="640.40" y2="349.67" stroke="#444" stroke-width="0.6" />
<line x1="639.20" y1="347.67" x2="641.60" y2="347.67" stroke="#444" stroke-width="0.6" />
<line x1="640.40" y1="336.19" x2="640.40" y2="338.19" stroke="#444" stroke-width="0.6" />
<line x1="639.20" y1="336.19" x2="641.60" y2="336.19" stroke="#444" stroke-width="0.6" />
<line x1="516.70" y1="313.00" x2="516.70" y2="423.50" stroke="#333" stroke-width="0.8" />
<line x1="516.30" y1="423.10" x2="653.00" y2="423.10" stroke="#333" stroke-width="0.8" />
<line x1="513.20" y1="423.10" x2="516.70" y2="423.10" stroke="#333" stroke-width="0.7" />
<text x="512.30" y="425.70" font-family='"Liberation Sans", sans-serif' font-size="7" font-weight="bold" fill="#000" text-anchor="end">0</text>
<line x1="514.70" y1="413.11" x2="516.70" y2="413.11" stroke="#333" stroke-width="0.7" />
<line x1="513.20" y1="403.12" x2="516.70" y2="403.12" stroke="#333" stroke-width="0.7" />
<text x="512.30" y="405.72" font-family='"Liberation Sans", sans-serif' font-size="7" font-weight="bold" fill="#000" text-anchor="end">20</text>
<line x1="514.70" y1="393.13" x2="516.70" y2="393.13" stroke="#333" stroke-width="0.7" />
<line x1="513.20" y1="383.14" x2="516.70" y2="383.14" stroke="#333" stroke-width="0.7" />
<text x="512.30" y="385.74" font-family='"Liberation Sans", sans-serif' font-size="7" font-weight="bold" fill="#000" text-anchor="end">40</text>
<line x1="514.70" y1="373.15" x2="516.70" y2="373.15" stroke="#333" stroke-width="0.7" />
<line x1="513.20" y1="363.16" x2="516.70" y2="363.16" stroke="#333" stroke-width="0.7" />
<text x="512.30" y="365.76" font-family='"Liberation Sans", sans-serif' font-size="7" font-weight="bold" fill="#000" text-anchor="end">60</text>
<line x1="514.70" y1="353.17" x2="516.70" y2="353.17" stroke="#333" stroke-width="0.7" />
<line x1="513.20" y1="343.18" x2="516.70" y2="343.18" stroke="#333" stroke-width="0.7" />
<text x="512.30" y="345.78" font-family='"Liberation Sans", sans-serif' font-size="7" font-weight="bold" fill="#000" text-anchor="end">80</text>
<line x1="514.70" y1="333.19" x2="516.70" y2="333.19" stroke="#333" stroke-width="0.7" />
<line x1="513.20" y1="323.20" x2="516.70" y2="323.20" stroke="#333" stroke-width="0.7" />
<text x="512.30" y="325.80" font-family='"Liberation Sans", sans-serif' font-size="7" font-weight="bold" fill="#000" text-anchor="end">100</text>
<line x1="530.20" y1="423.10" x2="530.20" y2="425.60" stroke="#333" stroke-width="0.7" />
<line x1="543.98" y1="423.10" x2="543.98" y2="424.60" stroke="#333" stroke-width="0.7" />
<line x1="557.75" y1="423.10" x2="557.75" y2="425.60" stroke="#333" stroke-width="0.7" />
<line x1="571.52" y1="423.10" x2="571.52" y2="424.60" stroke="#333" stroke-width="0.7" />
<line x1="585.30" y1="423.10" x2="585.30" y2="425.60" stroke="#333" stroke-width="0.7" />
<line x1="599.08" y1="423.10" x2="599.08" y2="424.60" stroke="#333" stroke-width="0.7" />
<line x1="612.85" y1="423.10" x2="612.85" y2="425.60" stroke="#333" stroke-width="0.7" />
<line x1="626.62" y1="423.10" x2="626.62" y2="424.60" stroke="#333" stroke-width="0.7" />
<line x1="640.40" y1="423.10" x2="640.40" y2="425.60" stroke="#333" stroke-width="0.7" />
<text x="530.20" y="433.00" font-family='"Liberation Sans", sans-serif' font-size="7" font-weight="bold" fill="#000" text-anchor="middle">0</text>
<text x="557.50" y="433.00" font-family='"Liberation Sans", sans-serif' font-size="7" font-weight="bold" fill="#000" text-anchor="middle">5</text>
<text x="585.00" y="433.00" font-family='"Liberation Sans", sans-serif' font-size="7" font-weight="bold" fill="#000" text-anchor="middle">10</text>
<text x="612.90" y="433.00" font-family='"Liberation Sans", sans-serif' font-size="7" font-weight="bold" fill="#000" text-anchor="middle">15</text>
<text x="640.40" y="433.00" font-family='"Liberation Sans", sans-serif' font-size="7" font-weight="bold" fill="#000" text-anchor="middle">20</text>
<text x="581.00" y="442.00" font-family='"Liberation Sans", sans-serif' font-size="7" font-weight="bold" fill="#000" text-anchor="middle">[IA], µM</text>
<text x="529.70" y="317.60" font-family='"Liberation Sans", sans-serif' font-size="7.2" font-weight="bold" fill="#000" textLength="64.3" lengthAdjust="spacingAndGlyphs">MDA-MB-231, 12 h</text>
<text x="34.90" y="366.20" font-family='"Liberation Sans", sans-serif' font-size="7" font-weight="bold" fill="#000" text-anchor="middle" textLength="61" lengthAdjust="spacingAndGlyphs" transform="rotate(-90 34.90 366.20)">% Live population</text>
<rect x="142.20" y="296.20" width="37.50" height="26.80" fill="#fff" stroke="#555" stroke-width="0.7" />
<rect x="142.90" y="298.00" width="12.40" height="5.70" fill="#000" />
<rect x="142.90" y="306.20" width="12.40" height="5.90" fill="url(#hatch)" stroke="#555" stroke-width="0.5" />
<rect x="142.90" y="315.40" width="12.40" height="6.20" fill="#fff" stroke="#444" stroke-width="0.6" />
<text x="157.30" y="303.20" font-family='"Liberation Sans", sans-serif' font-size="7" font-weight="normal" fill="#222">G2/M</text>
<text x="157.30" y="311.90" font-family='"Liberation Sans", sans-serif' font-size="7" font-weight="normal" fill="#222">S</text>
<text x="157.30" y="321.40" font-family='"Liberation Sans", sans-serif' font-size="7" font-weight="normal" fill="#222">G0/G1</text>
<line x1="41.00" y1="470.50" x2="41.00" y2="610.50" stroke="#333" stroke-width="0.9" />
<line x1="40.60" y1="610.10" x2="212.00" y2="610.10" stroke="#333" stroke-width="0.9" />
<line x1="38.00" y1="602.10" x2="41.00" y2="602.10" stroke="#333" stroke-width="0.8" />
<text x="36.50" y="605.50" font-family='"Liberation Sans", sans-serif' font-size="9.2" font-weight="bold" fill="#000" text-anchor="end">0</text>
<line x1="39.20" y1="585.80" x2="41.00" y2="585.80" stroke="#333" stroke-width="0.8" />
<line x1="38.00" y1="569.50" x2="41.00" y2="569.50" stroke="#333" stroke-width="0.8" />
<text x="36.50" y="572.90" font-family='"Liberation Sans", sans-serif' font-size="9.2" font-weight="bold" fill="#000" text-anchor="end">2</text>
<line x1="39.20" y1="553.20" x2="41.00" y2="553.20" stroke="#333" stroke-width="0.8" />
<line x1="38.00" y1="536.90" x2="41.00" y2="536.90" stroke="#333" stroke-width="0.8" />
<text x="36.50" y="540.30" font-family='"Liberation Sans", sans-serif' font-size="9.2" font-weight="bold" fill="#000" text-anchor="end">4</text>
<line x1="39.20" y1="520.60" x2="41.00" y2="520.60" stroke="#333" stroke-width="0.8" />
<line x1="38.00" y1="504.30" x2="41.00" y2="504.30" stroke="#333" stroke-width="0.8" />
<text x="36.50" y="507.70" font-family='"Liberation Sans", sans-serif' font-size="9.2" font-weight="bold" fill="#000" text-anchor="end">6</text>
<line x1="39.20" y1="488.00" x2="41.00" y2="488.00" stroke="#333" stroke-width="0.8" />
<line x1="38.00" y1="471.70" x2="41.00" y2="471.70" stroke="#333" stroke-width="0.8" />
<text x="36.50" y="475.10" font-family='"Liberation Sans", sans-serif' font-size="9.2" font-weight="bold" fill="#000" text-anchor="end">8</text>
<line x1="58.10" y1="610.10" x2="58.10" y2="612.70" stroke="#333" stroke-width="0.8" />
<text x="58.10" y="626.00" font-family='"Liberation Sans", sans-serif' font-size="9.2" font-weight="bold" fill="#000" text-anchor="middle">0</text>
<line x1="92.30" y1="610.10" x2="92.30" y2="612.70" stroke="#333" stroke-width="0.8" />
<text x="92.30" y="626.00" font-family='"Liberation Sans", sans-serif' font-size="9.2" font-weight="bold" fill="#000" text-anchor="middle">5</text>
<line x1="126.40" y1="610.10" x2="126.40" y2="612.70" stroke="#333" stroke-width="0.8" />
<text x="126.40" y="626.00" font-family='"Liberation Sans", sans-serif' font-size="9.2" font-weight="bold" fill="#000" text-anchor="middle">10</text>
<line x1="160.20" y1="610.10" x2="160.20" y2="612.70" stroke="#333" stroke-width="0.8" />
<text x="160.20" y="626.00" font-family='"Liberation Sans", sans-serif' font-size="9.2" font-weight="bold" fill="#000" text-anchor="middle">15</text>
<line x1="194.00" y1="610.10" x2="194.00" y2="612.70" stroke="#333" stroke-width="0.8" />
<text x="194.00" y="626.00" font-family='"Liberation Sans", sans-serif' font-size="9.2" font-weight="bold" fill="#000" text-anchor="middle">20</text>
<text x="134.20" y="636.50" font-family='"Liberation Sans", sans-serif' font-size="9.5" font-weight="bold" fill="#000" text-anchor="middle">[IA], µM</text>
<polyline points="60.30,521.20 127.90,521.20" fill="none" stroke="#3c3c3c" stroke-width="0.9" />
<polyline points="93.90,521.20 93.90,477.20 193.10,477.20 193.10,488.80" fill="none" stroke="#3c3c3c" stroke-width="0.9" />
<circle cx="48.50" cy="583.40" r="1.95" fill="#fff" stroke="#444" stroke-width="0.7"/>
<circle cx="53.80" cy="581.40" r="1.95" fill="#fff" stroke="#444" stroke-width="0.7"/>
<circle cx="51.20" cy="593.50" r="1.95" fill="#fff" stroke="#444" stroke-width="0.7"/>
<rect x="59.40" y="581.30" width="11.20" height="12.30" fill="#ffffff" stroke="#333" stroke-width="0.9" />
<line x1="59.80" y1="583.20" x2="70.20" y2="583.20" stroke="#333" stroke-width="0.9" />
<rect x="64.20" y="585.30" width="1.60" height="1.60" fill="#666" />
<circle cx="85.40" cy="575.00" r="2.0" fill="#c4c4c4" stroke="#9c9c9c" stroke-width="0.7"/>
<circle cx="82.70" cy="588.70" r="2.0" fill="#c4c4c4" stroke="#9c9c9c" stroke-width="0.7"/>
<circle cx="88.10" cy="593.30" r="2.0" fill="#c4c4c4" stroke="#9c9c9c" stroke-width="0.7"/>
<rect x="93.60" y="575.00" width="11.00" height="18.50" fill="#c4c4c4" stroke="#333" stroke-width="0.9" />
<line x1="94.00" y1="588.40" x2="104.20" y2="588.40" stroke="#333" stroke-width="0.9" />
<rect x="98.20" y="585.30" width="1.60" height="1.60" fill="#666" />
<circle cx="122.00" cy="554.50" r="2.0" fill="#858585" stroke="#666" stroke-width="0.5"/>
<circle cx="117.00" cy="565.20" r="2.0" fill="#858585" stroke="#666" stroke-width="0.5"/>
<circle cx="119.60" cy="586.90" r="2.0" fill="#858585" stroke="#666" stroke-width="0.5"/>
<rect x="128.30" y="554.50" width="10.30" height="32.40" fill="#858585" stroke="#333" stroke-width="0.9" />
<line x1="128.70" y1="565.20" x2="138.20" y2="565.20" stroke="#333" stroke-width="0.9" />
<rect x="132.50" y="568.10" width="1.60" height="1.60" fill="#555" />
<circle cx="154.00" cy="529.60" r="2.0" fill="#464646" stroke="#333" stroke-width="0.5"/>
<circle cx="156.50" cy="556.50" r="2.0" fill="#464646" stroke="#333" stroke-width="0.5"/>
<circle cx="151.30" cy="564.10" r="2.0" fill="#464646" stroke="#333" stroke-width="0.5"/>
<rect x="162.20" y="529.30" width="10.70" height="35.10" fill="#464646" stroke="#333" stroke-width="0.9" />
<line x1="162.60" y1="556.30" x2="172.50" y2="556.30" stroke="#222" stroke-width="0.9" />
<rect x="166.60" y="549.20" width="1.60" height="1.60" fill="#666" />
<circle cx="188.20" cy="494.80" r="2.0" fill="#000000" stroke="#000" stroke-width="0.5"/>
<circle cx="188.20" cy="530.60" r="2.0" fill="#000000" stroke="#000" stroke-width="0.5"/>
<circle cx="188.20" cy="542.40" r="2.0" fill="#000000" stroke="#000" stroke-width="0.5"/>
<rect x="196.20" y="494.80" width="11.30" height="47.80" fill="#000000" stroke="#000" stroke-width="0.9" />
<line x1="196.60" y1="530.50" x2="207.10" y2="530.50" stroke="#999" stroke-width="0.9" />
<rect x="201.10" y="522.00" width="1.60" height="1.60" fill="#999" />
<text x="142.00" y="476.00" font-family='"Liberation Sans", sans-serif' font-size="13" font-weight="bold" fill="#000" text-anchor="middle">*</text>
<text x="49.00" y="481.00" font-family='"Liberation Sans", sans-serif' font-size="9.2" font-weight="bold" fill="#000" textLength="24.6" lengthAdjust="spacingAndGlyphs">MCF7</text>
<text x="14.60" y="540.00" font-family='"Liberation Sans", sans-serif' font-size="8.6" font-weight="bold" fill="#000" text-anchor="middle" textLength="42.7" lengthAdjust="spacingAndGlyphs" transform="rotate(-90 14.60 540.00)">p21 mRNA</text>
<text x="23.70" y="540.00" font-family='"Liberation Sans", sans-serif' font-size="9" font-weight="normal" fill="#000" text-anchor="middle" textLength="93" lengthAdjust="spacingAndGlyphs" transform="rotate(-90 23.70 540.00)" stroke="#000" stroke-width="0.2">normalized fold change</text>
<line x1="271.00" y1="473.50" x2="271.00" y2="612.30" stroke="#333" stroke-width="0.9" />
<line x1="270.60" y1="611.90" x2="442.20" y2="611.90" stroke="#333" stroke-width="0.9" />
<line x1="268.00" y1="611.90" x2="271.00" y2="611.90" stroke="#333" stroke-width="0.8" />
<text x="266.50" y="615.30" font-family='"Liberation Sans", sans-serif' font-size="9.2" font-weight="bold" fill="#000" text-anchor="end">0.0</text>
<line x1="269.20" y1="594.64" x2="271.00" y2="594.64" stroke="#333" stroke-width="0.8" />
<line x1="268.00" y1="577.38" x2="271.00" y2="577.38" stroke="#333" stroke-width="0.8" />
<text x="266.50" y="580.77" font-family='"Liberation Sans", sans-serif' font-size="9.2" font-weight="bold" fill="#000" text-anchor="end">0.5</text>
<line x1="269.20" y1="560.11" x2="271.00" y2="560.11" stroke="#333" stroke-width="0.8" />
<line x1="268.00" y1="542.85" x2="271.00" y2="542.85" stroke="#333" stroke-width="0.8" />
<text x="266.50" y="546.25" font-family='"Liberation Sans", sans-serif' font-size="9.2" font-weight="bold" fill="#000" text-anchor="end">1.0</text>
<line x1="269.20" y1="525.59" x2="271.00" y2="525.59" stroke="#333" stroke-width="0.8" />
<line x1="268.00" y1="508.32" x2="271.00" y2="508.32" stroke="#333" stroke-width="0.8" />
<text x="266.50" y="511.72" font-family='"Liberation Sans", sans-serif' font-size="9.2" font-weight="bold" fill="#000" text-anchor="end">1.5</text>
<line x1="269.20" y1="491.06" x2="271.00" y2="491.06" stroke="#333" stroke-width="0.8" />
<line x1="268.00" y1="473.80" x2="271.00" y2="473.80" stroke="#333" stroke-width="0.8" />
<text x="266.50" y="477.20" font-family='"Liberation Sans", sans-serif' font-size="9.2" font-weight="bold" fill="#000" text-anchor="end">2.0</text>
<line x1="287.40" y1="611.90" x2="287.40" y2="614.50" stroke="#333" stroke-width="0.8" />
<text x="286.20" y="625.80" font-family='"Liberation Sans", sans-serif' font-size="9.2" font-weight="bold" fill="#000" text-anchor="middle">0</text>
<line x1="321.90" y1="611.90" x2="321.90" y2="614.50" stroke="#333" stroke-width="0.8" />
<text x="320.40" y="625.80" font-family='"Liberation Sans", sans-serif' font-size="9.2" font-weight="bold" fill="#000" text-anchor="middle">5</text>
<line x1="356.20" y1="611.90" x2="356.20" y2="614.50" stroke="#333" stroke-width="0.8" />
<text x="355.20" y="625.80" font-family='"Liberation Sans", sans-serif' font-size="9.2" font-weight="bold" fill="#000" text-anchor="middle">10</text>
<line x1="390.40" y1="611.90" x2="390.40" y2="614.50" stroke="#333" stroke-width="0.8" />
<text x="389.10" y="625.80" font-family='"Liberation Sans", sans-serif' font-size="9.2" font-weight="bold" fill="#000" text-anchor="middle">15</text>
<line x1="424.60" y1="611.90" x2="424.60" y2="614.50" stroke="#333" stroke-width="0.8" />
<text x="423.90" y="625.80" font-family='"Liberation Sans", sans-serif' font-size="9.2" font-weight="bold" fill="#000" text-anchor="middle">20</text>
<text x="362.60" y="636.30" font-family='"Liberation Sans", sans-serif' font-size="9.5" font-weight="bold" fill="#000" text-anchor="middle">[IA], µM</text>
<polyline points="286.20,516.00 286.20,502.20 412.50,502.20 412.50,549.20" fill="none" stroke="#3c3c3c" stroke-width="0.9" />
<polyline points="390.70,549.20 434.20,549.20" fill="none" stroke="#3c3c3c" stroke-width="0.9" />
<circle cx="280.70" cy="520.50" r="1.95" fill="#fff" stroke="#444" stroke-width="0.7"/>
<circle cx="280.70" cy="550.50" r="1.95" fill="#fff" stroke="#444" stroke-width="0.7"/>
<circle cx="280.70" cy="558.60" r="1.95" fill="#fff" stroke="#444" stroke-width="0.7"/>
<rect x="289.40" y="520.20" width="10.10" height="38.40" fill="#ffffff" stroke="#333" stroke-width="0.9" />
<line x1="289.80" y1="550.50" x2="299.10" y2="550.50" stroke="#333" stroke-width="0.9" />
<rect x="293.40" y="542.20" width="1.60" height="1.60" fill="#666" />
<circle cx="312.40" cy="547.00" r="2.0" fill="#c4c4c4" stroke="#9c9c9c" stroke-width="0.7"/>
<circle cx="317.70" cy="550.70" r="2.0" fill="#c4c4c4" stroke="#9c9c9c" stroke-width="0.7"/>
<circle cx="315.30" cy="568.40" r="2.0" fill="#c4c4c4" stroke="#9c9c9c" stroke-width="0.7"/>
<rect x="323.60" y="547.00" width="10.80" height="21.40" fill="#c4c4c4" stroke="#333" stroke-width="0.9" />
<line x1="324.00" y1="550.30" x2="334.00" y2="550.30" stroke="#333" stroke-width="0.9" />
<rect x="328.10" y="554.70" width="1.60" height="1.60" fill="#666" />
<circle cx="349.30" cy="561.10" r="2.0" fill="#858585" stroke="#666" stroke-width="0.5"/>
<circle cx="352.00" cy="572.40" r="2.0" fill="#858585" stroke="#666" stroke-width="0.5"/>
<circle cx="346.60" cy="574.80" r="2.0" fill="#858585" stroke="#666" stroke-width="0.5"/>
<rect x="357.70" y="561.10" width="10.90" height="13.50" fill="#858585" stroke="#333" stroke-width="0.9" />
<line x1="358.10" y1="572.40" x2="368.20" y2="572.40" stroke="#333" stroke-width="0.9" />
<rect x="362.20" y="568.70" width="1.60" height="1.60" fill="#555" />
<circle cx="383.40" cy="561.40" r="2.0" fill="#464646" stroke="#333" stroke-width="0.5"/>
<circle cx="386.20" cy="573.30" r="2.0" fill="#464646" stroke="#333" stroke-width="0.5"/>
<circle cx="380.90" cy="579.60" r="2.0" fill="#464646" stroke="#333" stroke-width="0.5"/>
<rect x="391.80" y="561.40" width="10.80" height="18.20" fill="#464646" stroke="#333" stroke-width="0.9" />
<line x1="392.20" y1="573.30" x2="402.20" y2="573.30" stroke="#222" stroke-width="0.9" />
<rect x="396.60" y="570.10" width="1.60" height="1.60" fill="#666" />
<circle cx="415.30" cy="564.90" r="2.0" fill="#000000" stroke="#000" stroke-width="0.5"/>
<circle cx="420.20" cy="569.10" r="2.0" fill="#000000" stroke="#000" stroke-width="0.5"/>
<circle cx="417.70" cy="579.60" r="2.0" fill="#000000" stroke="#000" stroke-width="0.5"/>
<rect x="425.80" y="564.90" width="10.50" height="14.70" fill="#000000" stroke="#000" stroke-width="0.9" />
<line x1="426.20" y1="569.10" x2="435.90" y2="569.10" stroke="#999" stroke-width="0.9" />
<rect x="430.90" y="570.10" width="1.60" height="1.60" fill="#999" />
<text x="349.20" y="498.60" font-family='"Liberation Sans", sans-serif' font-size="5.6" font-weight="bold" fill="#000" text-anchor="middle" textLength="20" lengthAdjust="spacingAndGlyphs"><tspan font-style="italic">p</tspan>=0.08</text>
<text x="278.60" y="600.60" font-family='"Liberation Sans", sans-serif' font-size="9.2" font-weight="bold" fill="#000" textLength="24.2" lengthAdjust="spacingAndGlyphs">MCF7</text>
<text x="237.40" y="542.90" font-family='"Liberation Sans", sans-serif' font-size="8.6" font-weight="bold" fill="#000" text-anchor="middle" textLength="42" lengthAdjust="spacingAndGlyphs" transform="rotate(-90 237.40 542.90)">p27 mRNA</text>
<text x="246.90" y="542.90" font-family='"Liberation Sans", sans-serif' font-size="9" font-weight="normal" fill="#000" text-anchor="middle" textLength="93" lengthAdjust="spacingAndGlyphs" transform="rotate(-90 246.90 542.90)" stroke="#000" stroke-width="0.2">normalized fold change</text>
<line x1="492.10" y1="476.80" x2="492.10" y2="615.60" stroke="#333" stroke-width="0.9" />
<line x1="491.70" y1="615.20" x2="664.00" y2="615.20" stroke="#333" stroke-width="0.9" />
<line x1="489.10" y1="614.70" x2="492.10" y2="614.70" stroke="#333" stroke-width="0.8" />
<text x="487.60" y="618.10" font-family='"Liberation Sans", sans-serif' font-size="9.2" font-weight="bold" fill="#000" text-anchor="end">0.0</text>
<line x1="490.30" y1="591.90" x2="492.10" y2="591.90" stroke="#333" stroke-width="0.8" />
<line x1="489.10" y1="569.10" x2="492.10" y2="569.10" stroke="#333" stroke-width="0.8" />
<text x="487.60" y="572.50" font-family='"Liberation Sans", sans-serif' font-size="9.2" font-weight="bold" fill="#000" text-anchor="end">0.5</text>
<line x1="490.30" y1="546.30" x2="492.10" y2="546.30" stroke="#333" stroke-width="0.8" />
<line x1="489.10" y1="523.50" x2="492.10" y2="523.50" stroke="#333" stroke-width="0.8" />
<text x="487.60" y="526.90" font-family='"Liberation Sans", sans-serif' font-size="9.2" font-weight="bold" fill="#000" text-anchor="end">1.0</text>
<line x1="490.30" y1="500.70" x2="492.10" y2="500.70" stroke="#333" stroke-width="0.8" />
<line x1="489.10" y1="477.90" x2="492.10" y2="477.90" stroke="#333" stroke-width="0.8" />
<text x="487.60" y="481.30" font-family='"Liberation Sans", sans-serif' font-size="9.2" font-weight="bold" fill="#000" text-anchor="end">1.5</text>
<line x1="509.90" y1="615.20" x2="509.90" y2="617.80" stroke="#333" stroke-width="0.8" />
<text x="509.10" y="631.50" font-family='"Liberation Sans", sans-serif' font-size="9.2" font-weight="bold" fill="#000" text-anchor="middle">0</text>
<line x1="543.90" y1="615.20" x2="543.90" y2="617.80" stroke="#333" stroke-width="0.8" />
<text x="543.40" y="631.50" font-family='"Liberation Sans", sans-serif' font-size="9.2" font-weight="bold" fill="#000" text-anchor="middle">5</text>
<line x1="578.10" y1="615.20" x2="578.10" y2="617.80" stroke="#333" stroke-width="0.8" />
<text x="578.10" y="631.50" font-family='"Liberation Sans", sans-serif' font-size="9.2" font-weight="bold" fill="#000" text-anchor="middle">10</text>
<line x1="612.40" y1="615.20" x2="612.40" y2="617.80" stroke="#333" stroke-width="0.8" />
<text x="611.60" y="631.50" font-family='"Liberation Sans", sans-serif' font-size="9.2" font-weight="bold" fill="#000" text-anchor="middle">15</text>
<line x1="646.90" y1="615.20" x2="646.90" y2="617.80" stroke="#333" stroke-width="0.8" />
<text x="645.60" y="631.50" font-family='"Liberation Sans", sans-serif' font-size="9.2" font-weight="bold" fill="#000" text-anchor="middle">20</text>
<text x="585.10" y="641.50" font-family='"Liberation Sans", sans-serif' font-size="9.5" font-weight="bold" fill="#000" text-anchor="middle">[IA], µM</text>
<polyline points="510.20,508.20 510.20,489.60 594.50,489.60 594.50,564.40" fill="none" stroke="#3c3c3c" stroke-width="0.9" />
<polyline points="572.50,564.40 615.00,564.40" fill="none" stroke="#3c3c3c" stroke-width="0.9" />
<circle cx="505.60" cy="512.60" r="1.95" fill="#fff" stroke="#444" stroke-width="0.7"/>
<circle cx="500.30" cy="518.50" r="1.95" fill="#fff" stroke="#444" stroke-width="0.7"/>
<circle cx="502.70" cy="538.70" r="1.95" fill="#fff" stroke="#444" stroke-width="0.7"/>
<rect x="511.50" y="512.60" width="10.40" height="26.00" fill="#ffffff" stroke="#333" stroke-width="0.9" />
<line x1="511.90" y1="518.20" x2="521.50" y2="518.20" stroke="#333" stroke-width="0.9" />
<rect x="515.80" y="522.20" width="1.60" height="1.60" fill="#666" />
<circle cx="537.20" cy="523.30" r="2.0" fill="#c4c4c4" stroke="#9c9c9c" stroke-width="0.7"/>
<circle cx="534.50" cy="571.50" r="2.0" fill="#c4c4c4" stroke="#9c9c9c" stroke-width="0.7"/>
<circle cx="539.90" cy="576.80" r="2.0" fill="#c4c4c4" stroke="#9c9c9c" stroke-width="0.7"/>
<rect x="545.70" y="523.30" width="10.80" height="53.50" fill="#c4c4c4" stroke="#333" stroke-width="0.9" />
<line x1="546.10" y1="571.50" x2="556.10" y2="571.50" stroke="#333" stroke-width="0.9" />
<rect x="550.00" y="556.70" width="1.60" height="1.60" fill="#666" />
<circle cx="571.10" cy="580.30" r="2.0" fill="#858585" stroke="#666" stroke-width="0.5"/>
<circle cx="567.60" cy="589.50" r="2.0" fill="#858585" stroke="#666" stroke-width="0.5"/>
<circle cx="574.60" cy="593.00" r="2.0" fill="#858585" stroke="#666" stroke-width="0.5"/>
<rect x="580.60" y="580.30" width="9.80" height="12.70" fill="#858585" stroke="#333" stroke-width="0.9" />
<line x1="581.00" y1="589.50" x2="590.00" y2="589.50" stroke="#333" stroke-width="0.9" />
<rect x="584.40" y="586.90" width="1.60" height="1.60" fill="#555" />
<circle cx="608.60" cy="586.60" r="2.0" fill="#464646" stroke="#333" stroke-width="0.5"/>
<circle cx="603.40" cy="590.20" r="2.0" fill="#464646" stroke="#333" stroke-width="0.5"/>
<circle cx="605.50" cy="600.00" r="2.0" fill="#464646" stroke="#333" stroke-width="0.5"/>
<rect x="614.20" y="586.60" width="10.50" height="13.40" fill="#464646" stroke="#333" stroke-width="0.9" />
<line x1="614.60" y1="589.50" x2="624.30" y2="589.50" stroke="#222" stroke-width="0.9" />
<rect x="618.70" y="591.10" width="1.60" height="1.60" fill="#666" />
<circle cx="637.00" cy="554.10" r="2.0" fill="#000000" stroke="#000" stroke-width="0.5"/>
<circle cx="643.00" cy="545.70" r="2.0" fill="#000000" stroke="#000" stroke-width="0.5"/>
<circle cx="640.20" cy="572.60" r="2.0" fill="#000000" stroke="#000" stroke-width="0.5"/>
<rect x="648.90" y="545.70" width="9.80" height="26.90" fill="#000000" stroke="#000" stroke-width="0.9" />
<line x1="649.30" y1="554.10" x2="658.30" y2="554.10" stroke="#999" stroke-width="0.9" />
<rect x="653.00" y="556.80" width="1.60" height="1.60" fill="#999" />
<text x="550.80" y="487.50" font-family='"Liberation Sans", sans-serif' font-size="13" font-weight="bold" fill="#000" text-anchor="middle">*</text>
<text x="629.70" y="492.00" font-family='"Liberation Sans", sans-serif' font-size="9.2" font-weight="bold" fill="#000" textLength="23.8" lengthAdjust="spacingAndGlyphs">MCF7</text>
<text x="457.80" y="544.00" font-family='"Liberation Sans", sans-serif' font-size="8.6" font-weight="bold" fill="#000" text-anchor="middle" textLength="54.7" lengthAdjust="spacingAndGlyphs" transform="rotate(-90 457.80 544.00)">PARP-1 mRNA</text>
<text x="467.60" y="543.70" font-family='"Liberation Sans", sans-serif' font-size="9" font-weight="normal" fill="#000" text-anchor="middle" textLength="89.8" lengthAdjust="spacingAndGlyphs" transform="rotate(-90 467.60 543.70)" stroke="#000" stroke-width="0.2">normalized fold change</text>
<line x1="41.60" y1="656.50" x2="41.60" y2="803.30" stroke="#333" stroke-width="0.9" />
<line x1="41.20" y1="802.90" x2="221.80" y2="802.90" stroke="#333" stroke-width="0.9" />
<line x1="38.60" y1="794.30" x2="41.60" y2="794.30" stroke="#333" stroke-width="0.8" />
<text x="37.10" y="797.70" font-family='"Liberation Sans", sans-serif' font-size="9.2" font-weight="bold" fill="#000" text-anchor="end">0</text>
<line x1="39.80" y1="777.20" x2="41.60" y2="777.20" stroke="#333" stroke-width="0.8" />
<line x1="38.60" y1="760.10" x2="41.60" y2="760.10" stroke="#333" stroke-width="0.8" />
<text x="37.10" y="763.50" font-family='"Liberation Sans", sans-serif' font-size="9.2" font-weight="bold" fill="#000" text-anchor="end">2</text>
<line x1="39.80" y1="743.00" x2="41.60" y2="743.00" stroke="#333" stroke-width="0.8" />
<line x1="38.60" y1="725.90" x2="41.60" y2="725.90" stroke="#333" stroke-width="0.8" />
<text x="37.10" y="729.30" font-family='"Liberation Sans", sans-serif' font-size="9.2" font-weight="bold" fill="#000" text-anchor="end">4</text>
<line x1="39.80" y1="708.80" x2="41.60" y2="708.80" stroke="#333" stroke-width="0.8" />
<line x1="38.60" y1="691.70" x2="41.60" y2="691.70" stroke="#333" stroke-width="0.8" />
<text x="37.10" y="695.10" font-family='"Liberation Sans", sans-serif' font-size="9.2" font-weight="bold" fill="#000" text-anchor="end">6</text>
<line x1="39.80" y1="674.60" x2="41.60" y2="674.60" stroke="#333" stroke-width="0.8" />
<line x1="38.60" y1="657.50" x2="41.60" y2="657.50" stroke="#333" stroke-width="0.8" />
<text x="37.10" y="660.90" font-family='"Liberation Sans", sans-serif' font-size="9.2" font-weight="bold" fill="#000" text-anchor="end">8</text>
<line x1="59.50" y1="802.90" x2="59.50" y2="805.50" stroke="#333" stroke-width="0.8" />
<text x="59.50" y="818.60" font-family='"Liberation Sans", sans-serif' font-size="9.2" font-weight="bold" fill="#000" text-anchor="middle">0</text>
<line x1="95.30" y1="802.90" x2="95.30" y2="805.50" stroke="#333" stroke-width="0.8" />
<text x="95.30" y="818.60" font-family='"Liberation Sans", sans-serif' font-size="9.2" font-weight="bold" fill="#000" text-anchor="middle">5</text>
<line x1="131.90" y1="802.90" x2="131.90" y2="805.50" stroke="#333" stroke-width="0.8" />
<text x="131.90" y="818.60" font-family='"Liberation Sans", sans-serif' font-size="9.2" font-weight="bold" fill="#000" text-anchor="middle">10</text>
<line x1="168.30" y1="802.90" x2="168.30" y2="805.50" stroke="#333" stroke-width="0.8" />
<text x="168.30" y="818.60" font-family='"Liberation Sans", sans-serif' font-size="9.2" font-weight="bold" fill="#000" text-anchor="middle">15</text>
<line x1="204.10" y1="802.90" x2="204.10" y2="805.50" stroke="#333" stroke-width="0.8" />
<text x="204.10" y="818.60" font-family='"Liberation Sans", sans-serif' font-size="9.2" font-weight="bold" fill="#000" text-anchor="middle">20</text>
<text x="139.00" y="830.20" font-family='"Liberation Sans", sans-serif' font-size="9.5" font-weight="bold" fill="#000" text-anchor="middle">[IA], µM</text>
<polyline points="59.10,744.40 211.00,744.40" fill="none" stroke="#3c3c3c" stroke-width="0.9" />
<circle cx="52.50" cy="765.30" r="1.95" fill="#fff" stroke="#444" stroke-width="0.7"/>
<circle cx="52.50" cy="780.90" r="1.95" fill="#fff" stroke="#444" stroke-width="0.7"/>
<circle cx="52.50" cy="785.30" r="1.95" fill="#fff" stroke="#444" stroke-width="0.7"/>
<rect x="61.30" y="765.30" width="11.40" height="20.20" fill="#ffffff" stroke="#333" stroke-width="0.9" />
<line x1="61.70" y1="780.60" x2="72.30" y2="780.60" stroke="#333" stroke-width="0.9" />
<rect x="66.00" y="776.10" width="1.60" height="1.60" fill="#666" />
<circle cx="88.70" cy="775.50" r="2.0" fill="#c4c4c4" stroke="#9c9c9c" stroke-width="0.7"/>
<circle cx="88.70" cy="778.40" r="2.0" fill="#c4c4c4" stroke="#9c9c9c" stroke-width="0.7"/>
<circle cx="88.70" cy="783.50" r="2.0" fill="#c4c4c4" stroke="#9c9c9c" stroke-width="0.7"/>
<rect x="97.50" y="775.50" width="11.20" height="8.30" fill="#c4c4c4" stroke="#333" stroke-width="0.9" />
<line x1="97.90" y1="779.10" x2="108.30" y2="779.10" stroke="#333" stroke-width="0.9" />
<rect x="102.10" y="778.60" width="1.60" height="1.60" fill="#666" />
<circle cx="124.60" cy="766.00" r="2.0" fill="#858585" stroke="#666" stroke-width="0.5"/>
<circle cx="124.60" cy="767.00" r="2.0" fill="#858585" stroke="#666" stroke-width="0.5"/>
<circle cx="124.60" cy="785.00" r="2.0" fill="#858585" stroke="#666" stroke-width="0.5"/>
<rect x="133.50" y="766.00" width="11.20" height="19.30" fill="#858585" stroke="#333" stroke-width="0.9" />
<line x1="133.90" y1="767.00" x2="144.30" y2="767.00" stroke="#333" stroke-width="0.9" />
<rect x="138.30" y="771.80" width="1.60" height="1.60" fill="#555" />
<circle cx="161.10" cy="761.70" r="2.0" fill="#464646" stroke="#333" stroke-width="0.5"/>
<circle cx="161.10" cy="771.80" r="2.0" fill="#464646" stroke="#333" stroke-width="0.5"/>
<circle cx="161.10" cy="776.10" r="2.0" fill="#464646" stroke="#333" stroke-width="0.5"/>
<rect x="169.60" y="761.40" width="11.20" height="15.10" fill="#464646" stroke="#333" stroke-width="0.9" />
<line x1="170.00" y1="771.80" x2="180.40" y2="771.80" stroke="#222" stroke-width="0.9" />
<rect x="174.40" y="769.40" width="1.60" height="1.60" fill="#666" />
<circle cx="196.90" cy="772.30" r="2.0" fill="#000000" stroke="#000" stroke-width="0.5"/>
<circle cx="196.90" cy="774.80" r="2.0" fill="#000000" stroke="#000" stroke-width="0.5"/>
<circle cx="196.90" cy="777.30" r="2.0" fill="#000000" stroke="#000" stroke-width="0.5"/>
<circle cx="196.90" cy="779.60" r="2.0" fill="#000000" stroke="#000" stroke-width="0.5"/>
<rect x="206.00" y="773.20" width="11.30" height="6.60" fill="#000000" stroke="#000" stroke-width="0.9" />
<line x1="206.40" y1="776.60" x2="216.90" y2="776.60" stroke="#999" stroke-width="0.9" />
<rect x="210.80" y="775.80" width="1.60" height="1.60" fill="#999" />
<text x="133.10" y="738.00" font-family='"Liberation Sans", sans-serif' font-size="9.5" font-weight="bold" fill="#000" text-anchor="middle">N,S.</text>
<text x="50.10" y="668.00" font-family='"Liberation Sans", sans-serif' font-size="9.6" font-weight="bold" fill="#000" textLength="58.5" lengthAdjust="spacingAndGlyphs">MDA-MB-231</text>
<text x="12.20" y="731.00" font-family='"Liberation Sans", sans-serif' font-size="8.6" font-weight="bold" fill="#000" text-anchor="middle" textLength="42.7" lengthAdjust="spacingAndGlyphs" transform="rotate(-90 12.20 731.00)">p21 mRNA</text>
<text x="22.60" y="731.00" font-family='"Liberation Sans", sans-serif' font-size="9" font-weight="normal" fill="#000" text-anchor="middle" textLength="93" lengthAdjust="spacingAndGlyphs" transform="rotate(-90 22.60 731.00)" stroke="#000" stroke-width="0.2">normalized fold change</text>
<line x1="270.60" y1="666.00" x2="270.60" y2="805.40" stroke="#333" stroke-width="0.9" />
<line x1="270.20" y1="805.00" x2="442.20" y2="805.00" stroke="#333" stroke-width="0.9" />
<line x1="267.60" y1="804.00" x2="270.60" y2="804.00" stroke="#333" stroke-width="0.8" />
<text x="266.10" y="807.40" font-family='"Liberation Sans", sans-serif' font-size="9.2" font-weight="bold" fill="#000" text-anchor="end">0.5</text>
<line x1="268.80" y1="790.25" x2="270.60" y2="790.25" stroke="#333" stroke-width="0.8" />
<line x1="267.60" y1="776.50" x2="270.60" y2="776.50" stroke="#333" stroke-width="0.8" />
<text x="266.10" y="779.90" font-family='"Liberation Sans", sans-serif' font-size="9.2" font-weight="bold" fill="#000" text-anchor="end">1.0</text>
<line x1="268.80" y1="762.75" x2="270.60" y2="762.75" stroke="#333" stroke-width="0.8" />
<line x1="267.60" y1="749.00" x2="270.60" y2="749.00" stroke="#333" stroke-width="0.8" />
<text x="266.10" y="752.40" font-family='"Liberation Sans", sans-serif' font-size="9.2" font-weight="bold" fill="#000" text-anchor="end">1.5</text>
<line x1="268.80" y1="735.25" x2="270.60" y2="735.25" stroke="#333" stroke-width="0.8" />
<line x1="267.60" y1="721.50" x2="270.60" y2="721.50" stroke="#333" stroke-width="0.8" />
<text x="266.10" y="724.90" font-family='"Liberation Sans", sans-serif' font-size="9.2" font-weight="bold" fill="#000" text-anchor="end">2.0</text>
<line x1="268.80" y1="707.75" x2="270.60" y2="707.75" stroke="#333" stroke-width="0.8" />
<line x1="267.60" y1="694.00" x2="270.60" y2="694.00" stroke="#333" stroke-width="0.8" />
<text x="266.10" y="697.40" font-family='"Liberation Sans", sans-serif' font-size="9.2" font-weight="bold" fill="#000" text-anchor="end">2.5</text>
<line x1="268.80" y1="680.25" x2="270.60" y2="680.25" stroke="#333" stroke-width="0.8" />
<line x1="267.60" y1="666.50" x2="270.60" y2="666.50" stroke="#333" stroke-width="0.8" />
<text x="266.10" y="669.90" font-family='"Liberation Sans", sans-serif' font-size="9.2" font-weight="bold" fill="#000" text-anchor="end">3.0</text>
<line x1="287.40" y1="805.00" x2="287.40" y2="807.60" stroke="#333" stroke-width="0.8" />
<text x="286.20" y="818.30" font-family='"Liberation Sans", sans-serif' font-size="9.2" font-weight="bold" fill="#000" text-anchor="middle">0</text>
<line x1="322.10" y1="805.00" x2="322.10" y2="807.60" stroke="#333" stroke-width="0.8" />
<text x="320.40" y="818.30" font-family='"Liberation Sans", sans-serif' font-size="9.2" font-weight="bold" fill="#000" text-anchor="middle">5</text>
<line x1="356.40" y1="805.00" x2="356.40" y2="807.60" stroke="#333" stroke-width="0.8" />
<text x="355.60" y="818.30" font-family='"Liberation Sans", sans-serif' font-size="9.2" font-weight="bold" fill="#000" text-anchor="middle">10</text>
<line x1="390.40" y1="805.00" x2="390.40" y2="807.60" stroke="#333" stroke-width="0.8" />
<text x="389.10" y="818.30" font-family='"Liberation Sans", sans-serif' font-size="9.2" font-weight="bold" fill="#000" text-anchor="middle">15</text>
<line x1="424.60" y1="805.00" x2="424.60" y2="807.60" stroke="#333" stroke-width="0.8" />
<text x="423.90" y="818.30" font-family='"Liberation Sans", sans-serif' font-size="9.2" font-weight="bold" fill="#000" text-anchor="middle">20</text>
<text x="362.70" y="829.20" font-family='"Liberation Sans", sans-serif' font-size="9.5" font-weight="bold" fill="#000" text-anchor="middle">[IA], µM</text>
<polyline points="287.00,753.10 287.00,671.30 390.40,671.30 390.40,683.80" fill="none" stroke="#3c3c3c" stroke-width="0.9" />
<circle cx="280.70" cy="766.50" r="1.95" fill="#fff" stroke="#444" stroke-width="0.7"/>
<circle cx="278.30" cy="781.90" r="1.95" fill="#fff" stroke="#444" stroke-width="0.7"/>
<circle cx="283.90" cy="782.60" r="1.95" fill="#fff" stroke="#444" stroke-width="0.7"/>
<rect x="289.60" y="766.50" width="10.70" height="15.90" fill="#ffffff" stroke="#333" stroke-width="0.9" />
<line x1="290.00" y1="781.50" x2="299.90" y2="781.50" stroke="#333" stroke-width="0.9" />
<rect x="293.70" y="775.70" width="1.60" height="1.60" fill="#666" />
<circle cx="315.60" cy="725.80" r="2.0" fill="#c4c4c4" stroke="#9c9c9c" stroke-width="0.7"/>
<circle cx="312.70" cy="763.10" r="2.0" fill="#c4c4c4" stroke="#9c9c9c" stroke-width="0.7"/>
<circle cx="317.70" cy="761.50" r="2.0" fill="#c4c4c4" stroke="#9c9c9c" stroke-width="0.7"/>
<rect x="323.60" y="725.80" width="10.90" height="37.50" fill="#c4c4c4" stroke="#333" stroke-width="0.9" />
<line x1="324.00" y1="761.50" x2="334.10" y2="761.50" stroke="#333" stroke-width="0.9" />
<rect x="328.10" y="749.20" width="1.60" height="1.60" fill="#666" />
<circle cx="349.60" cy="715.40" r="2.0" fill="#858585" stroke="#666" stroke-width="0.5"/>
<circle cx="349.60" cy="727.40" r="2.0" fill="#858585" stroke="#666" stroke-width="0.5"/>
<circle cx="349.60" cy="768.40" r="2.0" fill="#858585" stroke="#666" stroke-width="0.5"/>
<rect x="358.10" y="715.40" width="10.50" height="53.00" fill="#858585" stroke="#333" stroke-width="0.9" />
<line x1="358.50" y1="727.40" x2="368.20" y2="727.40" stroke="#333" stroke-width="0.9" />
<rect x="362.50" y="736.30" width="1.60" height="1.60" fill="#555" />
<circle cx="383.70" cy="691.50" r="2.0" fill="#464646" stroke="#333" stroke-width="0.5"/>
<circle cx="383.70" cy="713.60" r="2.0" fill="#464646" stroke="#333" stroke-width="0.5"/>
<circle cx="383.70" cy="729.30" r="2.0" fill="#464646" stroke="#333" stroke-width="0.5"/>
<rect x="392.10" y="691.50" width="10.50" height="37.80" fill="#464646" stroke="#333" stroke-width="0.9" />
<line x1="392.50" y1="713.60" x2="402.20" y2="713.60" stroke="#222" stroke-width="0.9" />
<rect x="396.60" y="710.30" width="1.60" height="1.60" fill="#666" />
<circle cx="417.70" cy="728.60" r="2.0" fill="#000000" stroke="#000" stroke-width="0.5"/>
<circle cx="417.70" cy="738.10" r="2.0" fill="#000000" stroke="#000" stroke-width="0.5"/>
<circle cx="417.70" cy="752.10" r="2.0" fill="#000000" stroke="#000" stroke-width="0.5"/>
<rect x="425.80" y="728.60" width="11.20" height="23.50" fill="#000000" stroke="#000" stroke-width="0.9" />
<line x1="426.20" y1="738.10" x2="436.60" y2="738.10" stroke="#999" stroke-width="0.9" />
<rect x="430.90" y="739.10" width="1.60" height="1.60" fill="#999" />
<text x="338.60" y="670.50" font-family='"Liberation Sans", sans-serif' font-size="13" font-weight="bold" fill="#000" text-anchor="middle">*</text>
<text x="378.10" y="798.80" font-family='"Liberation Sans", sans-serif' font-size="9.6" font-weight="bold" fill="#000" textLength="55.4" lengthAdjust="spacingAndGlyphs">MDA-MB-231</text>
<text x="237.40" y="735.60" font-family='"Liberation Sans", sans-serif' font-size="8.6" font-weight="bold" fill="#000" text-anchor="middle" textLength="42" lengthAdjust="spacingAndGlyphs" transform="rotate(-90 237.40 735.60)">p27 mRNA</text>
<text x="246.90" y="735.40" font-family='"Liberation Sans", sans-serif' font-size="9" font-weight="normal" fill="#000" text-anchor="middle" textLength="93.6" lengthAdjust="spacingAndGlyphs" transform="rotate(-90 246.90 735.40)" stroke="#000" stroke-width="0.2">normalized fold change</text>
<line x1="494.80" y1="666.00" x2="494.80" y2="805.10" stroke="#333" stroke-width="0.9" />
<line x1="494.40" y1="804.70" x2="665.70" y2="804.70" stroke="#333" stroke-width="0.9" />
<line x1="491.80" y1="803.60" x2="494.80" y2="803.60" stroke="#333" stroke-width="0.8" />
<text x="490.30" y="807.00" font-family='"Liberation Sans", sans-serif' font-size="9.2" font-weight="bold" fill="#000" text-anchor="end">0</text>
<line x1="493.00" y1="786.44" x2="494.80" y2="786.44" stroke="#333" stroke-width="0.8" />
<line x1="491.80" y1="769.27" x2="494.80" y2="769.27" stroke="#333" stroke-width="0.8" />
<text x="490.30" y="772.67" font-family='"Liberation Sans", sans-serif' font-size="9.2" font-weight="bold" fill="#000" text-anchor="end">1</text>
<line x1="493.00" y1="752.11" x2="494.80" y2="752.11" stroke="#333" stroke-width="0.8" />
<line x1="491.80" y1="734.94" x2="494.80" y2="734.94" stroke="#333" stroke-width="0.8" />
<text x="490.30" y="738.34" font-family='"Liberation Sans", sans-serif' font-size="9.2" font-weight="bold" fill="#000" text-anchor="end">2</text>
<line x1="493.00" y1="717.78" x2="494.80" y2="717.78" stroke="#333" stroke-width="0.8" />
<line x1="491.80" y1="700.61" x2="494.80" y2="700.61" stroke="#333" stroke-width="0.8" />
<text x="490.30" y="704.01" font-family='"Liberation Sans", sans-serif' font-size="9.2" font-weight="bold" fill="#000" text-anchor="end">3</text>
<line x1="493.00" y1="683.45" x2="494.80" y2="683.45" stroke="#333" stroke-width="0.8" />
<line x1="491.80" y1="666.28" x2="494.80" y2="666.28" stroke="#333" stroke-width="0.8" />
<text x="490.30" y="669.68" font-family='"Liberation Sans", sans-serif' font-size="9.2" font-weight="bold" fill="#000" text-anchor="end">4</text>
<line x1="512.40" y1="804.70" x2="512.40" y2="807.30" stroke="#333" stroke-width="0.8" />
<text x="511.10" y="820.40" font-family='"Liberation Sans", sans-serif' font-size="9.2" font-weight="bold" fill="#000" text-anchor="middle">0</text>
<line x1="546.40" y1="804.70" x2="546.40" y2="807.30" stroke="#333" stroke-width="0.8" />
<text x="545.40" y="820.40" font-family='"Liberation Sans", sans-serif' font-size="9.2" font-weight="bold" fill="#000" text-anchor="middle">5</text>
<line x1="580.60" y1="804.70" x2="580.60" y2="807.30" stroke="#333" stroke-width="0.8" />
<text x="580.10" y="820.40" font-family='"Liberation Sans", sans-serif' font-size="9.2" font-weight="bold" fill="#000" text-anchor="middle">10</text>
<line x1="614.90" y1="804.70" x2="614.90" y2="807.30" stroke="#333" stroke-width="0.8" />
<text x="613.60" y="820.40" font-family='"Liberation Sans", sans-serif' font-size="9.2" font-weight="bold" fill="#000" text-anchor="middle">15</text>
<line x1="649.40" y1="804.70" x2="649.40" y2="807.30" stroke="#333" stroke-width="0.8" />
<text x="648.10" y="820.40" font-family='"Liberation Sans", sans-serif' font-size="9.2" font-weight="bold" fill="#000" text-anchor="middle">20</text>
<text x="587.60" y="830.20" font-family='"Liberation Sans", sans-serif' font-size="9.5" font-weight="bold" fill="#000" text-anchor="middle">[IA], µM</text>
<polyline points="508.10,751.40 547.70,751.40" fill="none" stroke="#3c3c3c" stroke-width="0.9" />
<polyline points="528.00,751.40 528.00,695.00 615.00,695.00 615.00,704.10" fill="none" stroke="#3c3c3c" stroke-width="0.9" />
<circle cx="502.80" cy="762.60" r="1.95" fill="#fff" stroke="#444" stroke-width="0.7"/>
<circle cx="508.10" cy="766.10" r="1.95" fill="#fff" stroke="#444" stroke-width="0.7"/>
<circle cx="505.30" cy="781.20" r="1.95" fill="#fff" stroke="#444" stroke-width="0.7"/>
<rect x="513.30" y="762.60" width="10.50" height="18.60" fill="#ffffff" stroke="#333" stroke-width="0.9" />
<line x1="513.70" y1="766.10" x2="523.40" y2="766.10" stroke="#333" stroke-width="0.9" />
<rect x="517.80" y="769.50" width="1.60" height="1.60" fill="#666" />
<circle cx="536.80" cy="762.60" r="2.0" fill="#c4c4c4" stroke="#9c9c9c" stroke-width="0.7"/>
<circle cx="542.40" cy="762.60" r="2.0" fill="#c4c4c4" stroke="#9c9c9c" stroke-width="0.7"/>
<circle cx="539.60" cy="772.40" r="2.0" fill="#c4c4c4" stroke="#9c9c9c" stroke-width="0.7"/>
<rect x="547.70" y="762.60" width="10.10" height="9.80" fill="#c4c4c4" stroke="#333" stroke-width="0.9" />
<line x1="548.10" y1="763.00" x2="557.40" y2="763.00" stroke="#333" stroke-width="0.9" />
<rect x="552.80" y="764.60" width="1.60" height="1.60" fill="#666" />
<circle cx="573.60" cy="745.10" r="2.0" fill="#858585" stroke="#666" stroke-width="0.5"/>
<circle cx="571.10" cy="765.10" r="2.0" fill="#858585" stroke="#666" stroke-width="0.5"/>
<circle cx="576.40" cy="768.90" r="2.0" fill="#858585" stroke="#666" stroke-width="0.5"/>
<rect x="582.40" y="745.10" width="10.50" height="23.80" fill="#858585" stroke="#333" stroke-width="0.9" />
<line x1="582.80" y1="765.10" x2="592.50" y2="765.10" stroke="#333" stroke-width="0.9" />
<rect x="586.10" y="758.30" width="1.60" height="1.60" fill="#555" />
<circle cx="607.90" cy="709.00" r="2.0" fill="#464646" stroke="#333" stroke-width="0.5"/>
<circle cx="607.90" cy="728.60" r="2.0" fill="#464646" stroke="#333" stroke-width="0.5"/>
<circle cx="607.90" cy="737.40" r="2.0" fill="#464646" stroke="#333" stroke-width="0.5"/>
<rect x="616.00" y="709.00" width="11.20" height="28.40" fill="#464646" stroke="#333" stroke-width="0.9" />
<line x1="616.40" y1="728.60" x2="626.80" y2="728.60" stroke="#222" stroke-width="0.9" />
<rect x="621.20" y="724.00" width="1.60" height="1.60" fill="#666" />
<circle cx="642.30" cy="739.90" r="2.0" fill="#000000" stroke="#000" stroke-width="0.5"/>
<circle cx="639.50" cy="753.20" r="2.0" fill="#000000" stroke="#000" stroke-width="0.5"/>
<circle cx="644.70" cy="768.90" r="2.0" fill="#000000" stroke="#000" stroke-width="0.5"/>
<rect x="650.70" y="739.90" width="10.50" height="29.00" fill="#000000" stroke="#000" stroke-width="0.9" />
<line x1="651.10" y1="753.20" x2="660.80" y2="753.20" stroke="#999" stroke-width="0.9" />
<rect x="655.10" y="753.80" width="1.60" height="1.60" fill="#999" />
<text x="569.40" y="692.80" font-family='"Liberation Sans", sans-serif' font-size="13" font-weight="bold" fill="#000" text-anchor="middle">*</text>
<text x="501.10" y="672.60" font-family='"Liberation Sans", sans-serif' font-size="9.6" font-weight="bold" fill="#000" textLength="55.3" lengthAdjust="spacingAndGlyphs">MDA-MB-231</text>
<text x="466.80" y="733.30" font-family='"Liberation Sans", sans-serif' font-size="8.6" font-weight="bold" fill="#000" text-anchor="middle" textLength="54.7" lengthAdjust="spacingAndGlyphs" transform="rotate(-90 466.80 733.30)">PARP-1 mRNA</text>
<text x="479.50" y="733.30" font-family='"Liberation Sans", sans-serif' font-size="9" font-weight="normal" fill="#000" text-anchor="middle" textLength="89" lengthAdjust="spacingAndGlyphs" transform="rotate(-90 479.50 733.30)" stroke="#000" stroke-width="0.2">normalized fold change</text>
</svg></body></html>
